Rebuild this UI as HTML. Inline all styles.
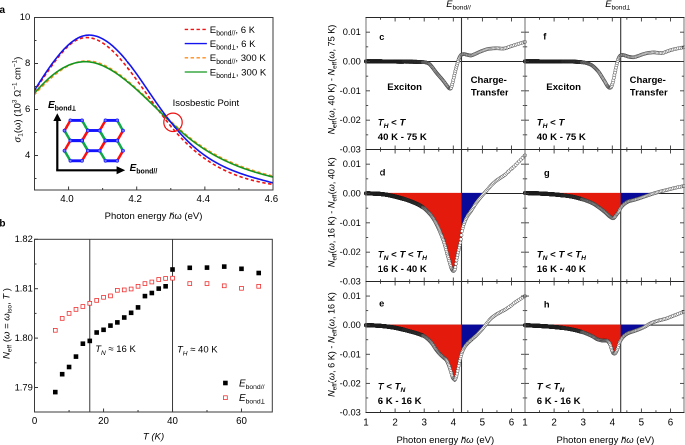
<!DOCTYPE html>
<html><head><meta charset="utf-8"><style>
html,body{margin:0;padding:0;background:#fff;overflow:hidden;width:685px;height:445px;}
#wrap{width:685px;height:445px;overflow:hidden;position:relative;}
#fig{position:absolute;left:0;top:0;width:1370px;height:890px;transform:scale(0.5);transform-origin:0 0;will-change:transform;}
svg{display:block;font-family:"Liberation Sans", sans-serif;}
</style></head><body><div id="wrap"><div id="fig">
<svg width="1370" height="890" viewBox="0 0 685 445">
<text x="-0.5" y="12.8" font-size="10" font-weight="bold" xml:space="preserve">a</text>
<text x="-0.6" y="226.4" font-size="10" font-weight="bold" xml:space="preserve">b</text>
<defs><clipPath id="ca"><rect x="34.5" y="17.5" width="238.5" height="172.5"/></clipPath></defs>
<g clip-path="url(#ca)" fill="none">
<path d="M34,95.1 L35,94.01 L36,92.93 L37,91.86 L38,90.8 L39,89.74 L40,88.7 L41,87.67 L42,86.65 L43,85.65 L44,84.65 L45,83.67 L46,82.7 L47,81.75 L48,80.81 L49,79.89 L50,78.98 L51,78.09 L52,77.21 L53,76.36 L54,75.52 L55,74.7 L56,73.9 L57,73.12 L58,72.36 L59,71.62 L60,70.9 L61,70.2 L62,69.53 L63,68.88 L64,68.25 L65,67.65 L66,67.07 L67,66.51 L68,65.98 L69,65.48 L70,64.99 L71,64.54 L72,64.11 L73,63.71 L74,63.33 L75,62.98 L76,62.66 L77,62.36 L78,62.09 L79,61.85 L80,61.63 L81,61.45 L82,61.29 L83,61.16 L84,61.06 L85,60.99 L86,60.94 L87,60.93 L88,60.95 L89,61 L90,61.07 L91,61.18 L92,61.32 L93,61.49 L94,61.69 L95,61.91 L96,62.16 L97,62.44 L98,62.75 L99,63.08 L100,63.44 L101,63.82 L102,64.22 L103,64.65 L104,65.1 L105,65.58 L106,66.07 L107,66.59 L108,67.13 L109,67.68 L110,68.26 L111,68.85 L112,69.47 L113,70.1 L114,70.74 L115,71.4 L116,72.08 L117,72.77 L118,73.48 L119,74.2 L120,74.94 L121,75.68 L122,76.44 L123,77.21 L124,77.99 L125,78.79 L126,79.59 L127,80.41 L128,81.23 L129,82.06 L130,82.91 L131,83.76 L132,84.62 L133,85.49 L134,86.37 L135,87.26 L136,88.15 L137,89.05 L138,89.96 L139,90.87 L140,91.79 L141,92.71 L142,93.64 L143,94.58 L144,95.52 L145,96.46 L146,97.41 L147,98.36 L148,99.32 L149,100.28 L150,101.24 L151,102.2 L152,103.17 L153,104.13 L154,105.1 L155,106.07 L156,107.04 L157,108.01 L158,108.98 L159,109.95 L160,110.92 L161,111.88 L162,112.85 L163,113.81 L164,114.78 L165,115.73 L166,116.69 L167,117.64 L168,118.59 L169,119.54 L170,120.48 L171,121.42 L172,122.35 L173,123.28 L174,124.2 L175,125.12 L176,126.02 L177,126.93 L178,127.82 L179,128.71 L180,129.59 L181,130.47 L182,131.33 L183,132.19 L184,133.03 L185,133.87 L186,134.7 L187,135.52 L188,136.33 L189,137.12 L190,137.91 L191,138.69 L192,139.45 L193,140.21 L194,140.95 L195,141.69 L196,142.41 L197,143.13 L198,143.84 L199,144.53 L200,145.22 L201,145.9 L202,146.56 L203,147.22 L204,147.87 L205,148.51 L206,149.14 L207,149.76 L208,150.38 L209,150.98 L210,151.58 L211,152.17 L212,152.74 L213,153.32 L214,153.88 L215,154.43 L216,154.98 L217,155.52 L218,156.05 L219,156.57 L220,157.09 L221,157.6 L222,158.1 L223,158.59 L224,159.08 L225,159.55 L226,160.03 L227,160.49 L228,160.95 L229,161.4 L230,161.85 L231,162.28 L232,162.72 L233,163.14 L234,163.56 L235,163.97 L236,164.38 L237,164.78 L238,165.18 L239,165.57 L240,165.95 L241,166.33 L242,166.7 L243,167.07 L244,167.43 L245,167.79 L246,168.14 L247,168.49 L248,168.83 L249,169.17 L250,169.5 L251,169.83 L252,170.15 L253,170.47 L254,170.79 L255,171.1 L256,171.4 L257,171.71 L258,172.01 L259,172.3 L260,172.59 L261,172.88 L262,173.17 L263,173.45 L264,173.73 L265,174 L266,174.27 L267,174.54 L268,174.81 L269,175.07 L270,175.33 L271,175.59 L272,175.84 L273,176.1" stroke="#ff8c1a" stroke-width="1.6" stroke-dasharray="3.4 2.5"/>
<path d="M34,91.47 L35,90.06 L36,88.65 L37,87.22 L38,85.79 L39,84.34 L40,82.89 L41,81.43 L42,79.97 L43,78.51 L44,77.05 L45,75.59 L46,74.14 L47,72.69 L48,71.24 L49,69.81 L50,68.38 L51,66.97 L52,65.57 L53,64.18 L54,62.82 L55,61.47 L56,60.14 L57,58.83 L58,57.55 L59,56.29 L60,55.06 L61,53.86 L62,52.68 L63,51.54 L64,50.44 L65,49.37 L66,48.33 L67,47.34 L68,46.38 L69,45.47 L70,44.6 L71,43.78 L72,43 L73,42.27 L74,41.6 L75,40.97 L76,40.4 L77,39.88 L78,39.42 L79,39.01 L80,38.65 L81,38.35 L82,38.09 L83,37.89 L84,37.73 L85,37.62 L86,37.56 L87,37.55 L88,37.59 L89,37.67 L90,37.79 L91,37.96 L92,38.17 L93,38.43 L94,38.72 L95,39.06 L96,39.44 L97,39.86 L98,40.31 L99,40.81 L100,41.34 L101,41.91 L102,42.51 L103,43.15 L104,43.83 L105,44.53 L106,45.27 L107,46.05 L108,46.85 L109,47.69 L110,48.55 L111,49.44 L112,50.37 L113,51.32 L114,52.29 L115,53.3 L116,54.32 L117,55.38 L118,56.45 L119,57.55 L120,58.68 L121,59.82 L122,60.99 L123,62.17 L124,63.38 L125,64.6 L126,65.84 L127,67.1 L128,68.37 L129,69.65 L130,70.96 L131,72.27 L132,73.6 L133,74.94 L134,76.29 L135,77.64 L136,79.01 L137,80.39 L138,81.77 L139,83.16 L140,84.56 L141,85.96 L142,87.36 L143,88.77 L144,90.18 L145,91.59 L146,93 L147,94.41 L148,95.82 L149,97.23 L150,98.63 L151,100.03 L152,101.43 L153,102.82 L154,104.21 L155,105.59 L156,106.96 L157,108.32 L158,109.68 L159,111.02 L160,112.36 L161,113.69 L162,115.01 L163,116.32 L164,117.63 L165,118.92 L166,120.19 L167,121.46 L168,122.72 L169,123.96 L170,125.19 L171,126.41 L172,127.61 L173,128.8 L174,129.98 L175,131.14 L176,132.28 L177,133.41 L178,134.53 L179,135.63 L180,136.71 L181,137.77 L182,138.82 L183,139.85 L184,140.87 L185,141.87 L186,142.86 L187,143.82 L188,144.78 L189,145.72 L190,146.64 L191,147.55 L192,148.44 L193,149.32 L194,150.18 L195,151.03 L196,151.87 L197,152.69 L198,153.49 L199,154.29 L200,155.07 L201,155.83 L202,156.58 L203,157.32 L204,158.05 L205,158.76 L206,159.46 L207,160.15 L208,160.82 L209,161.48 L210,162.13 L211,162.77 L212,163.39 L213,164.01 L214,164.61 L215,165.2 L216,165.77 L217,166.34 L218,166.9 L219,167.44 L220,167.98 L221,168.5 L222,169.01 L223,169.51 L224,170.01 L225,170.49 L226,170.96 L227,171.42 L228,171.87 L229,172.31 L230,172.75 L231,173.17 L232,173.59 L233,173.99 L234,174.39 L235,174.78 L236,175.15 L237,175.53 L238,175.89 L239,176.24 L240,176.59 L241,176.93 L242,177.26 L243,177.58 L244,177.9 L245,178.21 L246,178.51 L247,178.8 L248,179.09 L249,179.37 L250,179.64 L251,179.91 L252,180.17 L253,180.43 L254,180.68 L255,180.92 L256,181.16 L257,181.39 L258,181.62 L259,181.84 L260,182.05 L261,182.27 L262,182.47 L263,182.67 L264,182.87 L265,183.06 L266,183.25 L267,183.44 L268,183.62 L269,183.79 L270,183.97 L271,184.14 L272,184.3 L273,184.46" stroke="#f01414" stroke-width="1.6" stroke-dasharray="3.4 2.5"/>
<path d="M34,93.74 L35,92.58 L36,91.43 L37,90.3 L38,89.18 L39,88.09 L40,87.02 L41,85.96 L42,84.92 L43,83.9 L44,82.9 L45,81.93 L46,80.97 L47,80.03 L48,79.11 L49,78.21 L50,77.34 L51,76.49 L52,75.65 L53,74.84 L54,74.05 L55,73.29 L56,72.54 L57,71.82 L58,71.13 L59,70.45 L60,69.8 L61,69.18 L62,68.57 L63,68 L64,67.44 L65,66.92 L66,66.41 L67,65.93 L68,65.48 L69,65.05 L70,64.65 L71,64.27 L72,63.92 L73,63.59 L74,63.29 L75,63.02 L76,62.77 L77,62.54 L78,62.34 L79,62.17 L80,62.02 L81,61.9 L82,61.81 L83,61.74 L84,61.7 L85,61.68 L86,61.69 L87,61.73 L88,61.8 L89,61.89 L90,62.01 L91,62.15 L92,62.32 L93,62.52 L94,62.74 L95,62.99 L96,63.26 L97,63.55 L98,63.87 L99,64.22 L100,64.58 L101,64.97 L102,65.38 L103,65.81 L104,66.26 L105,66.73 L106,67.23 L107,67.74 L108,68.27 L109,68.82 L110,69.38 L111,69.97 L112,70.57 L113,71.19 L114,71.82 L115,72.48 L116,73.14 L117,73.82 L118,74.52 L119,75.23 L120,75.95 L121,76.69 L122,77.44 L123,78.2 L124,78.97 L125,79.75 L126,80.55 L127,81.36 L128,82.18 L129,83 L130,83.84 L131,84.69 L132,85.54 L133,86.41 L134,87.28 L135,88.17 L136,89.06 L137,89.95 L138,90.86 L139,91.77 L140,92.69 L141,93.61 L142,94.54 L143,95.47 L144,96.41 L145,97.36 L146,98.3 L147,99.26 L148,100.21 L149,101.17 L150,102.13 L151,103.1 L152,104.06 L153,105.03 L154,106 L155,106.97 L156,107.94 L157,108.92 L158,109.89 L159,110.86 L160,111.83 L161,112.8 L162,113.77 L163,114.74 L164,115.7 L165,116.67 L166,117.63 L167,118.58 L168,119.54 L169,120.49 L170,121.43 L171,122.37 L172,123.31 L173,124.24 L174,125.17 L175,126.09 L176,127 L177,127.91 L178,128.81 L179,129.7 L180,130.58 L181,131.46 L182,132.33 L183,133.19 L184,134.04 L185,134.88 L186,135.71 L187,136.54 L188,137.35 L189,138.15 L190,138.94 L191,139.72 L192,140.49 L193,141.24 L194,141.99 L195,142.73 L196,143.46 L197,144.17 L198,144.88 L199,145.58 L200,146.27 L201,146.95 L202,147.62 L203,148.28 L204,148.93 L205,149.57 L206,150.2 L207,150.82 L208,151.44 L209,152.04 L210,152.64 L211,153.23 L212,153.81 L213,154.38 L214,154.94 L215,155.49 L216,156.04 L217,156.58 L218,157.11 L219,157.63 L220,158.15 L221,158.66 L222,159.16 L223,159.65 L224,160.13 L225,160.61 L226,161.08 L227,161.55 L228,162 L229,162.45 L230,162.9 L231,163.34 L232,163.77 L233,164.19 L234,164.61 L235,165.02 L236,165.42 L237,165.82 L238,166.22 L239,166.61 L240,166.99 L241,167.36 L242,167.74 L243,168.1 L244,168.46 L245,168.82 L246,169.17 L247,169.51 L248,169.85 L249,170.19 L250,170.52 L251,170.84 L252,171.17 L253,171.48 L254,171.8 L255,172.1 L256,172.41 L257,172.71 L258,173.01 L259,173.3 L260,173.59 L261,173.87 L262,174.16 L263,174.43 L264,174.71 L265,174.98 L266,175.25 L267,175.52 L268,175.78 L269,176.04 L270,176.3 L271,176.55 L272,176.81 L273,177.06" stroke="#14961e" stroke-width="1.6"/>
<path d="M34,91.11 L35,89.51 L36,87.92 L37,86.33 L38,84.74 L39,83.17 L40,81.61 L41,80.05 L42,78.51 L43,76.98 L44,75.46 L45,73.96 L46,72.47 L47,71 L48,69.54 L49,68.1 L50,66.68 L51,65.27 L52,63.89 L53,62.53 L54,61.19 L55,59.87 L56,58.58 L57,57.31 L58,56.07 L59,54.85 L60,53.67 L61,52.5 L62,51.37 L63,50.27 L64,49.2 L65,48.16 L66,47.16 L67,46.19 L68,45.25 L69,44.35 L70,43.48 L71,42.66 L72,41.87 L73,41.12 L74,40.41 L75,39.74 L76,39.11 L77,38.53 L78,37.99 L79,37.49 L80,37.04 L81,36.64 L82,36.28 L83,35.98 L84,35.72 L85,35.5 L86,35.34 L87,35.22 L88,35.14 L89,35.11 L90,35.13 L91,35.19 L92,35.29 L93,35.43 L94,35.62 L95,35.85 L96,36.12 L97,36.42 L98,36.77 L99,37.16 L100,37.58 L101,38.04 L102,38.54 L103,39.08 L104,39.65 L105,40.25 L106,40.89 L107,41.57 L108,42.27 L109,43.01 L110,43.79 L111,44.59 L112,45.42 L113,46.29 L114,47.18 L115,48.1 L116,49.05 L117,50.03 L118,51.04 L119,52.07 L120,53.13 L121,54.21 L122,55.32 L123,56.45 L124,57.61 L125,58.79 L126,59.99 L127,61.21 L128,62.45 L129,63.71 L130,65 L131,66.3 L132,67.62 L133,68.96 L134,70.31 L135,71.68 L136,73.07 L137,74.47 L138,75.88 L139,77.3 L140,78.74 L141,80.18 L142,81.63 L143,83.09 L144,84.55 L145,86.02 L146,87.49 L147,88.97 L148,90.44 L149,91.92 L150,93.39 L151,94.86 L152,96.33 L153,97.8 L154,99.25 L155,100.71 L156,102.15 L157,103.58 L158,105.01 L159,106.42 L160,107.82 L161,109.21 L162,110.59 L163,111.96 L164,113.31 L165,114.65 L166,115.98 L167,117.29 L168,118.59 L169,119.88 L170,121.15 L171,122.41 L172,123.66 L173,124.89 L174,126.1 L175,127.3 L176,128.49 L177,129.65 L178,130.81 L179,131.94 L180,133.06 L181,134.17 L182,135.25 L183,136.32 L184,137.38 L185,138.41 L186,139.43 L187,140.43 L188,141.41 L189,142.37 L190,143.32 L191,144.25 L192,145.16 L193,146.05 L194,146.93 L195,147.79 L196,148.64 L197,149.47 L198,150.28 L199,151.08 L200,151.87 L201,152.63 L202,153.39 L203,154.13 L204,154.85 L205,155.56 L206,156.26 L207,156.94 L208,157.61 L209,158.27 L210,158.91 L211,159.54 L212,160.16 L213,160.76 L214,161.35 L215,161.94 L216,162.5 L217,163.06 L218,163.61 L219,164.15 L220,164.67 L221,165.19 L222,165.69 L223,166.18 L224,166.67 L225,167.14 L226,167.61 L227,168.06 L228,168.51 L229,168.95 L230,169.38 L231,169.8 L232,170.21 L233,170.62 L234,171.01 L235,171.4 L236,171.79 L237,172.16 L238,172.53 L239,172.89 L240,173.25 L241,173.6 L242,173.94 L243,174.28 L244,174.62 L245,174.94 L246,175.27 L247,175.58 L248,175.9 L249,176.21 L250,176.51 L251,176.81 L252,177.11 L253,177.41 L254,177.7 L255,177.99 L256,178.27 L257,178.55 L258,178.84 L259,179.11 L260,179.39 L261,179.67 L262,179.94 L263,180.21 L264,180.48 L265,180.76 L266,181.03 L267,181.3 L268,181.57 L269,181.84 L270,182.11 L271,182.38 L272,182.65 L273,182.92" stroke="#1414f0" stroke-width="1.6"/>
</g>
<rect x="34.5" y="17.5" width="238.5" height="172.5" fill="none" stroke="#3a3a3a" stroke-width="1"/>
<line x1="34.5" y1="178.5" x2="36.5" y2="178.5" stroke="#3a3a3a" stroke-width="1.0" />
<line x1="34.5" y1="155.5" x2="38" y2="155.5" stroke="#3a3a3a" stroke-width="1.0" />
<text x="25.02" y="158.1" font-size="9.5" xml:space="preserve">4</text>
<line x1="34.5" y1="132.5" x2="36.5" y2="132.5" stroke="#3a3a3a" stroke-width="1.0" />
<line x1="34.5" y1="109.5" x2="38" y2="109.5" stroke="#3a3a3a" stroke-width="1.0" />
<text x="25.02" y="112.1" font-size="9.5" xml:space="preserve">6</text>
<line x1="34.5" y1="86.5" x2="36.5" y2="86.5" stroke="#3a3a3a" stroke-width="1.0" />
<line x1="34.5" y1="63.5" x2="38" y2="63.5" stroke="#3a3a3a" stroke-width="1.0" />
<text x="25.02" y="66.1" font-size="9.5" xml:space="preserve">8</text>
<line x1="34.5" y1="40.5" x2="36.5" y2="40.5" stroke="#3a3a3a" stroke-width="1.0" />
<line x1="34.5" y1="17.5" x2="38" y2="17.5" stroke="#3a3a3a" stroke-width="1.0" />
<text x="19.73" y="20.1" font-size="9.5" xml:space="preserve">10</text>
<line x1="34.5" y1="190" x2="34.5" y2="188" stroke="#3a3a3a" stroke-width="1.0" />
<line x1="68.57" y1="190" x2="68.57" y2="186.5" stroke="#3a3a3a" stroke-width="1.0" />
<text x="60.23" y="201.8" font-size="9.7" xml:space="preserve">4.0</text>
<line x1="102.64" y1="190" x2="102.64" y2="188" stroke="#3a3a3a" stroke-width="1.0" />
<line x1="136.71" y1="190" x2="136.71" y2="186.5" stroke="#3a3a3a" stroke-width="1.0" />
<text x="128.37" y="201.8" font-size="9.7" xml:space="preserve">4.2</text>
<line x1="170.79" y1="190" x2="170.79" y2="188" stroke="#3a3a3a" stroke-width="1.0" />
<line x1="204.86" y1="190" x2="204.86" y2="186.5" stroke="#3a3a3a" stroke-width="1.0" />
<text x="196.51" y="201.8" font-size="9.7" xml:space="preserve">4.4</text>
<line x1="238.93" y1="190" x2="238.93" y2="188" stroke="#3a3a3a" stroke-width="1.0" />
<line x1="273" y1="190" x2="273" y2="186.5" stroke="#3a3a3a" stroke-width="1.0" />
<text x="264.66" y="201.8" font-size="9.7" xml:space="preserve">4.6</text>
<text x="104.64" y="218.8" font-size="9.5" xml:space="preserve">Photon energy </text><text x="169.07" y="218.8" font-size="9.5" font-style="italic" fill="#000">h</text><path d="M170.21,214.05 L173.82,212.72" stroke="#000" stroke-width="0.71"/><text x="174.36" y="218.8" font-size="9.5" xml:space="preserve">ω</text><text x="181.78" y="218.8" font-size="9.5" xml:space="preserve"> (eV)</text>
<g transform="translate(20.3,99.6) rotate(-90)"><text x="-42.88" y="0" font-size="9.5" font-style="italic" xml:space="preserve">σ</text><text x="-37.15" y="2" font-size="6.4" xml:space="preserve">1</text><text x="-33.59" y="0" font-size="9.5" xml:space="preserve">(ω) (10</text><text x="-3.48" y="-3.6" font-size="6.4" xml:space="preserve">3</text><text x="0.08" y="0" font-size="9.5" xml:space="preserve"> Ω</text><text x="9.82" y="-3.6" font-size="6.4" xml:space="preserve">−1</text><text x="17.12" y="0" font-size="9.5" xml:space="preserve"> cm</text><text x="32.42" y="-3.6" font-size="6.4" xml:space="preserve">−1</text><text x="39.72" y="0" font-size="9.5" xml:space="preserve">)</text></g>
<line x1="184.7" y1="29.4" x2="206.9" y2="29.4" stroke="#f01414" stroke-width="1.35" stroke-dasharray="3.4 2.5"/>
<text x="209.8" y="32.8" font-size="9.6" xml:space="preserve">E</text><text x="216.2" y="35.4" font-size="6.9" xml:space="preserve">bond</text><text x="231.55" y="35.4" font-size="6.9" xml:space="preserve">//</text><text x="235.39" y="32.8" font-size="9.6" xml:space="preserve">, 6 K</text>
<line x1="184.7" y1="43.6" x2="206.9" y2="43.6" stroke="#1414f0" stroke-width="1.35" />
<text x="209.8" y="47" font-size="9.6" xml:space="preserve">E</text><text x="216.2" y="49.6" font-size="6.9" xml:space="preserve">bond</text><path d="M233.69,44.77 V49.6 M231.97,49.31 H235.42" stroke="#000" stroke-width="0.59" fill="none"/><text x="235.83" y="47" font-size="9.6" xml:space="preserve">, 6 K</text>
<line x1="184.7" y1="57.8" x2="206.9" y2="57.8" stroke="#ff8c1a" stroke-width="1.35" stroke-dasharray="3.4 2.5"/>
<text x="209.8" y="61.2" font-size="9.6" xml:space="preserve">E</text><text x="216.2" y="63.8" font-size="6.9" xml:space="preserve">bond</text><text x="231.55" y="63.8" font-size="6.9" xml:space="preserve">//</text><text x="235.39" y="61.2" font-size="9.6" xml:space="preserve">, 300 K</text>
<line x1="184.7" y1="72" x2="206.9" y2="72" stroke="#14961e" stroke-width="1.35" />
<text x="209.8" y="75.4" font-size="9.6" xml:space="preserve">E</text><text x="216.2" y="78" font-size="6.9" xml:space="preserve">bond</text><path d="M233.69,73.17 V78 M231.97,77.71 H235.42" stroke="#000" stroke-width="0.59" fill="none"/><text x="235.83" y="75.4" font-size="9.6" xml:space="preserve">, 300 K</text>
<text x="172.6" y="105.8" font-size="9.5" xml:space="preserve">Isosbestic Point</text>
<circle cx="173" cy="122.3" r="9.2" fill="none" stroke="#ee1111" stroke-width="1.2"/>
<line x1="70.4" y1="120.4" x2="82" y2="120.4" stroke="#1414ff" stroke-width="2.9" />
<line x1="82" y1="120.4" x2="87.9" y2="130.6" stroke="#10a848" stroke-width="2.5" />
<line x1="82" y1="140.7" x2="87.9" y2="130.6" stroke="#ff1010" stroke-width="2.5" />
<line x1="70.4" y1="140.7" x2="82" y2="140.7" stroke="#1414ff" stroke-width="2.9" />
<line x1="64.5" y1="130.6" x2="70.4" y2="140.7" stroke="#10a848" stroke-width="2.5" />
<line x1="64.5" y1="130.6" x2="70.4" y2="120.4" stroke="#ff1010" stroke-width="2.5" />
<line x1="70.4" y1="140.5" x2="82" y2="140.5" stroke="#1414ff" stroke-width="2.9" />
<line x1="82" y1="140.5" x2="87.9" y2="150.7" stroke="#10a848" stroke-width="2.5" />
<line x1="82" y1="160.8" x2="87.9" y2="150.7" stroke="#ff1010" stroke-width="2.5" />
<line x1="70.4" y1="160.8" x2="82" y2="160.8" stroke="#1414ff" stroke-width="2.9" />
<line x1="64.5" y1="150.7" x2="70.4" y2="160.8" stroke="#10a848" stroke-width="2.5" />
<line x1="64.5" y1="150.7" x2="70.4" y2="140.5" stroke="#ff1010" stroke-width="2.5" />
<line x1="105.5" y1="120.4" x2="117.2" y2="120.4" stroke="#1414ff" stroke-width="2.9" />
<line x1="117.2" y1="120.4" x2="123" y2="130.6" stroke="#10a848" stroke-width="2.5" />
<line x1="117.2" y1="140.7" x2="123" y2="130.6" stroke="#ff1010" stroke-width="2.5" />
<line x1="105.5" y1="140.7" x2="117.2" y2="140.7" stroke="#1414ff" stroke-width="2.9" />
<line x1="99.6" y1="130.6" x2="105.5" y2="140.7" stroke="#10a848" stroke-width="2.5" />
<line x1="99.6" y1="130.6" x2="105.5" y2="120.4" stroke="#ff1010" stroke-width="2.5" />
<line x1="105.5" y1="140.5" x2="117.2" y2="140.5" stroke="#1414ff" stroke-width="2.9" />
<line x1="117.2" y1="140.5" x2="123" y2="150.7" stroke="#10a848" stroke-width="2.5" />
<line x1="117.2" y1="160.8" x2="123" y2="150.7" stroke="#ff1010" stroke-width="2.5" />
<line x1="105.5" y1="160.8" x2="117.2" y2="160.8" stroke="#1414ff" stroke-width="2.9" />
<line x1="99.6" y1="150.7" x2="105.5" y2="160.8" stroke="#10a848" stroke-width="2.5" />
<line x1="99.6" y1="150.7" x2="105.5" y2="140.5" stroke="#ff1010" stroke-width="2.5" />
<line x1="88" y1="130.5" x2="99.6" y2="130.5" stroke="#1414ff" stroke-width="2.9" />
<line x1="99.6" y1="130.5" x2="105.5" y2="140.6" stroke="#10a848" stroke-width="2.5" />
<line x1="99.6" y1="150.7" x2="105.5" y2="140.6" stroke="#ff1010" stroke-width="2.5" />
<line x1="88" y1="150.7" x2="99.6" y2="150.7" stroke="#1414ff" stroke-width="2.9" />
<line x1="82.1" y1="140.6" x2="88" y2="150.7" stroke="#10a848" stroke-width="2.5" />
<line x1="82.1" y1="140.6" x2="88" y2="130.5" stroke="#ff1010" stroke-width="2.5" />
<circle cx="105.5" cy="120.4" r="1.5" fill="#7a7aff" stroke="#1414ff" stroke-width="0.7"/>
<circle cx="82.0" cy="140.7" r="1.5" fill="#7a7aff" stroke="#1414ff" stroke-width="0.7"/>
<circle cx="88.0" cy="150.7" r="1.5" fill="#7a7aff" stroke="#1414ff" stroke-width="0.7"/>
<circle cx="99.6" cy="150.7" r="1.5" fill="#7a7aff" stroke="#1414ff" stroke-width="0.7"/>
<circle cx="123.0" cy="150.7" r="1.5" fill="#7a7aff" stroke="#1414ff" stroke-width="0.7"/>
<circle cx="105.5" cy="140.7" r="1.5" fill="#7a7aff" stroke="#1414ff" stroke-width="0.7"/>
<circle cx="88.0" cy="130.5" r="1.5" fill="#7a7aff" stroke="#1414ff" stroke-width="0.7"/>
<circle cx="82.1" cy="140.6" r="1.5" fill="#7a7aff" stroke="#1414ff" stroke-width="0.7"/>
<circle cx="99.6" cy="130.5" r="1.5" fill="#7a7aff" stroke="#1414ff" stroke-width="0.7"/>
<circle cx="70.4" cy="160.8" r="1.5" fill="#7a7aff" stroke="#1414ff" stroke-width="0.7"/>
<circle cx="70.4" cy="140.5" r="1.5" fill="#7a7aff" stroke="#1414ff" stroke-width="0.7"/>
<circle cx="117.2" cy="160.8" r="1.5" fill="#7a7aff" stroke="#1414ff" stroke-width="0.7"/>
<circle cx="117.2" cy="140.5" r="1.5" fill="#7a7aff" stroke="#1414ff" stroke-width="0.7"/>
<circle cx="105.5" cy="140.6" r="1.5" fill="#7a7aff" stroke="#1414ff" stroke-width="0.7"/>
<circle cx="99.6" cy="130.6" r="1.5" fill="#7a7aff" stroke="#1414ff" stroke-width="0.7"/>
<circle cx="123.0" cy="130.6" r="1.5" fill="#7a7aff" stroke="#1414ff" stroke-width="0.7"/>
<circle cx="87.9" cy="150.7" r="1.5" fill="#7a7aff" stroke="#1414ff" stroke-width="0.7"/>
<circle cx="64.5" cy="150.7" r="1.5" fill="#7a7aff" stroke="#1414ff" stroke-width="0.7"/>
<circle cx="82.0" cy="160.8" r="1.5" fill="#7a7aff" stroke="#1414ff" stroke-width="0.7"/>
<circle cx="82.0" cy="140.5" r="1.5" fill="#7a7aff" stroke="#1414ff" stroke-width="0.7"/>
<circle cx="105.5" cy="160.8" r="1.5" fill="#7a7aff" stroke="#1414ff" stroke-width="0.7"/>
<circle cx="70.4" cy="120.4" r="1.5" fill="#7a7aff" stroke="#1414ff" stroke-width="0.7"/>
<circle cx="105.5" cy="140.5" r="1.5" fill="#7a7aff" stroke="#1414ff" stroke-width="0.7"/>
<circle cx="117.2" cy="120.4" r="1.5" fill="#7a7aff" stroke="#1414ff" stroke-width="0.7"/>
<circle cx="70.4" cy="140.7" r="1.5" fill="#7a7aff" stroke="#1414ff" stroke-width="0.7"/>
<circle cx="87.9" cy="130.6" r="1.5" fill="#7a7aff" stroke="#1414ff" stroke-width="0.7"/>
<circle cx="117.2" cy="140.7" r="1.5" fill="#7a7aff" stroke="#1414ff" stroke-width="0.7"/>
<circle cx="64.5" cy="130.6" r="1.5" fill="#7a7aff" stroke="#1414ff" stroke-width="0.7"/>
<circle cx="82.0" cy="120.4" r="1.5" fill="#7a7aff" stroke="#1414ff" stroke-width="0.7"/>
<path d="M57.3,170.3 L57.3,120" stroke="#000" stroke-width="2.2" fill="none"/>
<path d="M53.3,121 L61.3,121 L57.3,113.2 Z" fill="#000"/>
<path d="M56.2,170.3 L117.5,170.3" stroke="#000" stroke-width="2.2" fill="none"/>
<path d="M116.6,166.2 L116.6,174.3 L125.2,170.3 Z" fill="#000"/>
<text x="48" y="107.8" font-size="10" font-weight="bold" font-style="italic" xml:space="preserve">E</text><text x="54.67" y="110.7" font-size="7" font-weight="bold" xml:space="preserve">bond</text><path d="M73.94,105.8 V110.7 M72.19,110.28 H75.69" stroke="#000" stroke-width="0.84" fill="none"/>
<text x="129.6" y="170.9" font-size="10" font-weight="bold" font-style="italic" xml:space="preserve">E</text><text x="136.27" y="173.3" font-size="7" font-weight="bold" xml:space="preserve">bond//</text>
<line x1="89.77" y1="239.3" x2="89.77" y2="412" stroke="#3a3a3a" stroke-width="1.0" />
<line x1="172.52" y1="239.3" x2="172.52" y2="412" stroke="#3a3a3a" stroke-width="1.0" />
<rect x="34.5" y="239.3" width="237.8" height="172.7" fill="none" stroke="#3a3a3a" stroke-width="1"/>
<line x1="34.5" y1="239.3" x2="38" y2="239.3" stroke="#3a3a3a" stroke-width="1.0" />
<text x="14.6" y="242.1" font-size="9.4" xml:space="preserve">1.82</text>
<line x1="34.5" y1="264" x2="36.5" y2="264" stroke="#3a3a3a" stroke-width="1.0" />
<line x1="34.5" y1="288.7" x2="38" y2="288.7" stroke="#3a3a3a" stroke-width="1.0" />
<text x="14.6" y="291.5" font-size="9.4" xml:space="preserve">1.81</text>
<line x1="34.5" y1="313.4" x2="36.5" y2="313.4" stroke="#3a3a3a" stroke-width="1.0" />
<line x1="34.5" y1="338.1" x2="38" y2="338.1" stroke="#3a3a3a" stroke-width="1.0" />
<text x="14.6" y="340.9" font-size="9.4" xml:space="preserve">1.80</text>
<line x1="34.5" y1="362.8" x2="36.5" y2="362.8" stroke="#3a3a3a" stroke-width="1.0" />
<line x1="34.5" y1="387.5" x2="38" y2="387.5" stroke="#3a3a3a" stroke-width="1.0" />
<text x="14.6" y="390.3" font-size="9.4" xml:space="preserve">1.79</text>
<text x="31.9" y="423.9" font-size="9.7" xml:space="preserve">0</text>
<line x1="69.08" y1="412" x2="69.08" y2="410" stroke="#3a3a3a" stroke-width="1.0" />
<line x1="103.56" y1="412" x2="103.56" y2="408.5" stroke="#3a3a3a" stroke-width="1.0" />
<text x="98.17" y="423.9" font-size="9.7" xml:space="preserve">20</text>
<line x1="138.04" y1="412" x2="138.04" y2="410" stroke="#3a3a3a" stroke-width="1.0" />
<line x1="172.52" y1="412" x2="172.52" y2="408.5" stroke="#3a3a3a" stroke-width="1.0" />
<text x="167.13" y="423.9" font-size="9.7" xml:space="preserve">40</text>
<line x1="207" y1="412" x2="207" y2="410" stroke="#3a3a3a" stroke-width="1.0" />
<line x1="241.48" y1="412" x2="241.48" y2="408.5" stroke="#3a3a3a" stroke-width="1.0" />
<text x="236.09" y="423.9" font-size="9.7" xml:space="preserve">60</text>
<text x="142.84" y="439.6" font-size="9.6" font-style="italic" xml:space="preserve">T</text><text x="148.7" y="439.6" font-size="9.6" font-style="italic" xml:space="preserve"> (K)</text>
<g transform="translate(9.3,323.5) rotate(-90)"><text x="-35.47" y="0" font-size="9.5" font-style="italic" xml:space="preserve">N</text><text x="-28.61" y="2" font-size="6.6" xml:space="preserve">eff</text><text x="-21.28" y="0" font-size="9.5" xml:space="preserve"> (</text><text x="-15.47" y="0" font-size="9.5" font-style="italic" xml:space="preserve">ω</text><text x="-8.07" y="0" font-size="9.5" xml:space="preserve"> = </text><text x="2.75" y="0" font-size="9.5" font-style="italic" xml:space="preserve">ω</text><text x="10.15" y="2" font-size="6.6" xml:space="preserve">iso</text><text x="18.59" y="0" font-size="9.5" xml:space="preserve">, </text><text x="23.87" y="0" font-size="9.5" font-style="italic" xml:space="preserve">T</text><text x="29.67" y="0" font-size="9.5" xml:space="preserve"> )</text></g>
<rect x="53.39" y="328.4" width="3.8" height="3.8" fill="#fff" stroke="#f03030" stroke-width="0.8"/>
<rect x="60.28" y="316.5" width="3.8" height="3.8" fill="#fff" stroke="#f03030" stroke-width="0.8"/>
<rect x="67.18" y="311.5" width="3.8" height="3.8" fill="#fff" stroke="#f03030" stroke-width="0.8"/>
<rect x="74.08" y="307.5" width="3.8" height="3.8" fill="#fff" stroke="#f03030" stroke-width="0.8"/>
<rect x="80.97" y="304.6" width="3.8" height="3.8" fill="#fff" stroke="#f03030" stroke-width="0.8"/>
<rect x="87.87" y="301.4" width="3.8" height="3.8" fill="#fff" stroke="#f03030" stroke-width="0.8"/>
<rect x="94.76" y="298.5" width="3.8" height="3.8" fill="#fff" stroke="#f03030" stroke-width="0.8"/>
<rect x="101.66" y="295.4" width="3.8" height="3.8" fill="#fff" stroke="#f03030" stroke-width="0.8"/>
<rect x="108.56" y="294" width="3.8" height="3.8" fill="#fff" stroke="#f03030" stroke-width="0.8"/>
<rect x="115.45" y="288.4" width="3.8" height="3.8" fill="#fff" stroke="#f03030" stroke-width="0.8"/>
<rect x="122.35" y="288" width="3.8" height="3.8" fill="#fff" stroke="#f03030" stroke-width="0.8"/>
<rect x="129.24" y="287.1" width="3.8" height="3.8" fill="#fff" stroke="#f03030" stroke-width="0.8"/>
<rect x="136.14" y="284.4" width="3.8" height="3.8" fill="#fff" stroke="#f03030" stroke-width="0.8"/>
<rect x="143.04" y="281.7" width="3.8" height="3.8" fill="#fff" stroke="#f03030" stroke-width="0.8"/>
<rect x="149.93" y="280.1" width="3.8" height="3.8" fill="#fff" stroke="#f03030" stroke-width="0.8"/>
<rect x="156.83" y="277.6" width="3.8" height="3.8" fill="#fff" stroke="#f03030" stroke-width="0.8"/>
<rect x="163.72" y="276.5" width="3.8" height="3.8" fill="#fff" stroke="#f03030" stroke-width="0.8"/>
<rect x="170.62" y="276.3" width="3.8" height="3.8" fill="#fff" stroke="#f03030" stroke-width="0.8"/>
<rect x="187.86" y="281.7" width="3.8" height="3.8" fill="#fff" stroke="#f03030" stroke-width="0.8"/>
<rect x="205.1" y="281.7" width="3.8" height="3.8" fill="#fff" stroke="#f03030" stroke-width="0.8"/>
<rect x="222.34" y="283.9" width="3.8" height="3.8" fill="#fff" stroke="#f03030" stroke-width="0.8"/>
<rect x="239.58" y="286.4" width="3.8" height="3.8" fill="#fff" stroke="#f03030" stroke-width="0.8"/>
<rect x="256.82" y="284.4" width="3.8" height="3.8" fill="#fff" stroke="#f03030" stroke-width="0.8"/>
<rect x="52.99" y="389.8" width="4.6" height="4.6" fill="#000"/>
<rect x="59.88" y="371.9" width="4.6" height="4.6" fill="#000"/>
<rect x="66.78" y="364.7" width="4.6" height="4.6" fill="#000"/>
<rect x="73.68" y="354.3" width="4.6" height="4.6" fill="#000"/>
<rect x="80.57" y="341.4" width="4.6" height="4.6" fill="#000"/>
<rect x="87.47" y="338.6" width="4.6" height="4.6" fill="#000"/>
<rect x="94.36" y="330.2" width="4.6" height="4.6" fill="#000"/>
<rect x="101.26" y="327.5" width="4.6" height="4.6" fill="#000"/>
<rect x="108.16" y="323.3" width="4.6" height="4.6" fill="#000"/>
<rect x="115.05" y="320.1" width="4.6" height="4.6" fill="#000"/>
<rect x="121.95" y="315.2" width="4.6" height="4.6" fill="#000"/>
<rect x="128.84" y="310.5" width="4.6" height="4.6" fill="#000"/>
<rect x="135.74" y="305.1" width="4.6" height="4.6" fill="#000"/>
<rect x="142.64" y="293.8" width="4.6" height="4.6" fill="#000"/>
<rect x="149.53" y="290.7" width="4.6" height="4.6" fill="#000"/>
<rect x="156.43" y="286.3" width="4.6" height="4.6" fill="#000"/>
<rect x="163.32" y="284" width="4.6" height="4.6" fill="#000"/>
<rect x="170.22" y="267.2" width="4.6" height="4.6" fill="#000"/>
<rect x="187.46" y="265.5" width="4.6" height="4.6" fill="#000"/>
<rect x="204.7" y="265.3" width="4.6" height="4.6" fill="#000"/>
<rect x="221.94" y="264.3" width="4.6" height="4.6" fill="#000"/>
<rect x="239.18" y="266.5" width="4.6" height="4.6" fill="#000"/>
<rect x="256.42" y="270.7" width="4.6" height="4.6" fill="#000"/>
<text x="95.2" y="352.2" font-size="9.5" font-style="italic" xml:space="preserve">T</text><text x="101" y="355" font-size="6.6" font-style="italic" xml:space="preserve">N</text><text x="105.77" y="352.2" font-size="9.5" xml:space="preserve"> ≈ 16 K</text>
<text x="177" y="352.7" font-size="9.5" font-style="italic" xml:space="preserve">T</text><text x="182.8" y="355.5" font-size="6.6" font-style="italic" xml:space="preserve">H</text><text x="187.57" y="352.7" font-size="9.5" xml:space="preserve"> ≈ 40 K</text>
<rect x="223.1" y="380.7" width="4.6" height="4.6" fill="#000"/>
<rect x="223.5" y="395.8" width="3.8" height="3.8" fill="#fff" stroke="#f03030" stroke-width="0.8"/>
<text x="239" y="386.4" font-size="9.9" font-style="italic" xml:space="preserve">E</text><text x="245.6" y="388.9" font-size="6.8" xml:space="preserve">bond//</text>
<text x="239" y="401.1" font-size="9.9" font-style="italic" xml:space="preserve">E</text><text x="245.6" y="403.6" font-size="6.8" xml:space="preserve">bond</text><path d="M262.84,398.84 V403.6 M261.14,403.31 H264.54" stroke="#000" stroke-width="0.58" fill="none"/>
<defs><marker id="m" viewBox="-2 -2 4 4" markerWidth="4" markerHeight="4" markerUnits="userSpaceOnUse" refX="0" refY="0" overflow="visible"><circle r="1.62" fill="#fff" stroke="#262626" stroke-width="0.42"/></marker><marker id="m1" viewBox="-2 -2 4 4" markerWidth="4" markerHeight="4" markerUnits="userSpaceOnUse" refX="0" refY="0" overflow="visible"><circle r="1.7200000000000002" fill="#fff" stroke="#1c1c1c" stroke-width="0.6"/></marker><marker id="m2" viewBox="-2 -2 4 4" markerWidth="4" markerHeight="4" markerUnits="userSpaceOnUse" refX="0" refY="0" overflow="visible"><circle r="1.6700000000000002" fill="#fff" stroke="#202020" stroke-width="0.52"/></marker></defs>
<line x1="366" y1="61.5" x2="525" y2="61.5" stroke="#222" stroke-width="1"/>
<line x1="461.5" y1="17.5" x2="461.5" y2="149.5" stroke="#333" stroke-width="1.1"/>
<polyline points="366,61.4 366.1,61.4 366.2,61.4 366.3,61.4 366.4,61.4 366.5,61.4 366.6,61.4 366.7,61.4 366.8,61.4 366.9,61.4 367,61.4 367.1,61.4 367.2,61.4 367.31,61.4 367.41,61.4 367.51,61.4 367.61,61.4 367.71,61.4 367.81,61.4 367.91,61.4 368.01,61.4 368.11,61.4 368.22,61.4 368.32,61.4 368.42,61.4 368.52,61.4 368.62,61.4 368.72,61.4 368.83,61.4 368.93,61.4 369.03,61.4 369.13,61.4 369.23,61.4 369.34,61.4 369.44,61.41 369.54,61.41 369.64,61.41 369.75,61.41 369.85,61.41 369.95,61.41 370.05,61.41 370.16,61.41 370.26,61.41 370.36,61.41 370.47,61.41 370.57,61.41 370.67,61.41 370.78,61.41 370.88,61.41 370.98,61.41 371.09,61.41 371.19,61.41 371.29,61.41 371.4,61.41 371.5,61.41 371.6,61.41 371.71,61.41 371.81,61.41 371.92,61.41 372.02,61.41 372.12,61.41 372.23,61.41 372.33,61.41 372.44,61.41 372.54,61.41 372.65,61.41 372.75,61.41 372.85,61.41 372.96,61.41 373.06,61.42 373.17,61.42 373.27,61.42 373.38,61.42 373.48,61.42 373.59,61.42 373.69,61.42 373.8,61.42 373.9,61.42 374.01,61.42 374.12,61.42 374.22,61.42 374.33,61.42 374.43,61.42 374.54,61.42 374.64,61.42 374.75,61.42 374.86,61.42 374.96,61.42 375.07,61.42 375.17,61.42 375.28,61.42 375.39,61.42 375.49,61.42 375.6,61.42 375.71,61.42 375.81,61.43 375.92,61.43 376.03,61.43 376.13,61.43 376.24,61.43 376.35,61.43 376.46,61.43 376.56,61.43 376.67,61.43 376.78,61.43 376.88,61.43 376.99,61.43 377.1,61.43 377.21,61.43 377.31,61.43 377.42,61.43 377.53,61.43 377.64,61.43 377.75,61.43 377.85,61.43 377.96,61.43 378.07,61.44 378.18,61.44 378.29,61.44 378.4,61.44 378.5,61.44 378.61,61.44 378.72,61.44 378.83,61.44 378.94,61.44 379.05,61.44 379.16,61.44 379.27,61.44 379.38,61.44 379.48,61.44 379.59,61.44 379.7,61.44 379.81,61.44 379.92,61.44 380.03,61.44 380.14,61.44 380.25,61.45 380.36,61.45 380.47,61.45 380.58,61.45 380.69,61.45 380.8,61.45 380.91,61.45 381.02,61.45 381.13,61.45 381.24,61.45 381.35,61.45 381.46,61.45 381.57,61.45 381.68,61.45 381.79,61.45 381.91,61.45 382.02,61.45 382.13,61.46 382.24,61.46 382.35,61.46 382.46,61.46 382.57,61.46 382.68,61.46 382.8,61.46 382.91,61.46 383.02,61.46 383.13,61.46 383.24,61.46 383.35,61.46 383.47,61.46 383.58,61.46 383.69,61.46 383.8,61.46 383.91,61.46 384.03,61.47 384.14,61.47 384.25,61.47 384.36,61.47 384.48,61.47 384.59,61.47 384.7,61.47 384.81,61.47 384.93,61.47 385.04,61.47 385.15,61.47 385.27,61.47 385.38,61.47 385.49,61.47 385.61,61.47 385.72,61.47 385.83,61.48 385.95,61.48 386.06,61.48 386.18,61.48 386.29,61.48 386.4,61.48 386.52,61.48 386.63,61.48 386.75,61.48 386.86,61.48 386.97,61.48 387.09,61.48 387.2,61.48 387.32,61.48 387.43,61.48 387.55,61.49 387.66,61.49 387.78,61.49 387.89,61.49 388.01,61.49 388.12,61.49 388.24,61.49 388.35,61.49 388.47,61.49 388.58,61.49 388.7,61.49 388.81,61.49 388.93,61.49 389.05,61.49 389.16,61.49 389.28,61.5 389.39,61.5 389.51,61.5 389.63,61.5 389.74,61.5 389.86,61.5 389.97,61.5 390.09,61.5 390.21,61.5 390.32,61.5 390.44,61.5 390.56,61.5 390.67,61.5 390.79,61.5 390.91,61.51 391.03,61.51 391.14,61.51 391.26,61.51 391.38,61.51 391.49,61.51 391.61,61.51 391.73,61.51 391.85,61.51 391.97,61.51 392.08,61.51 392.2,61.51 392.32,61.51 392.44,61.52 392.56,61.52 392.67,61.52 392.79,61.52 392.91,61.52 393.03,61.52 393.15,61.52 393.27,61.52 393.38,61.52 393.5,61.52 393.62,61.52 393.74,61.52 393.86,61.53 393.98,61.53 394.1,61.53 394.22,61.53 394.34,61.53 394.46,61.53 394.58,61.53 394.7,61.53 394.82,61.53 394.94,61.53 395.06,61.53 395.18,61.54 395.3,61.54 395.42,61.54 395.54,61.54 395.66,61.54 395.78,61.54 395.91,61.54 396.03,61.54 396.15,61.54 396.28,61.54 396.4,61.54 396.53,61.55 396.66,61.55 396.78,61.55 396.91,61.55 397.04,61.55 397.17,61.55 397.3,61.55 397.43,61.55 397.56,61.55 397.69,61.56 397.82,61.56 397.95,61.56 398.09,61.56 398.22,61.56 398.36,61.56 398.49,61.56 398.63,61.56 398.76,61.57 398.9,61.57 399.04,61.57 399.17,61.57 399.31,61.57 399.45,61.57 399.59,61.57 399.73,61.57 399.87,61.58 400.02,61.58 400.16,61.58 400.3,61.58 400.45,61.58 400.59,61.58 400.74,61.58 400.88,61.59 401.03,61.59 401.17,61.59 401.32,61.59 401.47,61.59 401.62,61.59 401.77,61.59 401.92,61.6 402.07,61.6 402.22,61.6 402.38,61.6 402.53,61.6 402.68,61.6 402.84,61.61 402.99,61.61 403.15,61.61 403.31,61.61 403.46,61.61 403.62,61.62 403.78,61.62 403.94,61.62" fill="none" stroke="none" marker-start="url(#m1)" marker-mid="url(#m1)" marker-end="url(#m1)"/>
<polyline points="403.94,61.62 404.1,61.62 404.26,61.62 404.43,61.62 404.59,61.63 404.75,61.63 404.92,61.63 405.08,61.63 405.25,61.63 405.41,61.64 405.58,61.64 405.75,61.64 405.92,61.64 406.09,61.65 406.26,61.65 406.43,61.65 406.6,61.65 406.77,61.65 406.95,61.66 407.12,61.66 407.3,61.66 407.47,61.66 407.65,61.67 407.83,61.67 408,61.67 408.18,61.67 408.36,61.68 408.54,61.68 408.73,61.68 408.91,61.68 409.09,61.69 409.28,61.69 409.46,61.69 409.65,61.69 409.83,61.7 410.02,61.7 410.21,61.7 410.4,61.71 410.59,61.71 410.78,61.71 410.97,61.72 411.16,61.72 411.36,61.72 411.55,61.73 411.75,61.73 411.94,61.73 412.14,61.74 412.34,61.74 412.54,61.75 412.74,61.75 412.94,61.76 413.14,61.76 413.35,61.77 413.56,61.77 413.77,61.78 413.99,61.78 414.21,61.79 414.43,61.79 414.65,61.8 414.88,61.81 415.11,61.81 415.34,61.82 415.58,61.82 415.81,61.83 416.05,61.84 416.3,61.85 416.55,61.85 416.8,61.86 417.05,61.87 417.31,61.88 417.57,61.89 417.83,61.89 418.09,61.9 418.36,61.91 418.64,61.92 418.91,61.93 419.19,61.94 419.48,61.95 419.76,61.96 420.06,61.97 420.35,61.98 420.65,61.99 420.95,62 421.26,62.01 421.57,62.02 421.88,62.04 422.2,62.05 422.52,62.07 422.84,62.09" fill="none" stroke="none" marker-start="url(#m2)" marker-mid="url(#m2)" marker-end="url(#m2)"/>
<polyline points="422.84,62.09 423.17,62.11 423.51,62.13 423.84,62.16 424.19,62.18 424.53,62.21 424.88,62.26 425.24,62.32 425.6,62.39 425.96,62.48 426.33,62.59 426.71,62.71 427.08,62.84 427.47,62.99 427.85,63.16 428.25,63.33 428.65,63.52 429.05,63.74 429.46,64.04 429.87,64.42 430.29,64.86 430.71,65.34 431.13,65.84 431.56,66.34 431.98,66.83 432.41,67.35 432.84,67.9 433.27,68.48 433.71,69.07 434.15,69.67 434.58,70.28 435.02,70.89 435.47,71.48 435.91,72.06 436.36,72.62 436.81,73.17 437.26,73.71 437.71,74.25 438.16,74.78 438.62,75.3 439.08,75.83 439.54,76.36 440,76.89 440.47,77.42 440.93,77.95 441.4,78.5 441.87,79.05 442.34,79.61 442.82,80.18 443.3,80.77 443.78,81.38 444.26,82.02 444.74,82.68 445.23,83.36 445.71,84.03 446.2,84.7 446.7,85.36 447.19,85.98 447.69,86.57 448.19,87.18 448.69,87.84 449.19,88.34 449.7,88.5 450.21,88.5 450.72,88.5 451.23,87.83 451.74,85.96 452.26,84.04 452.78,82.05 453.3,79.86 453.82,77.56 454.35,75.24 454.88,72.99 455.41,70.86 455.94,68.74 456.48,66.68 457.02,64.72 457.56,62.88 458.1,61.03 458.65,59.32 459.2,57.91 459.75,56.87 460.31,55.93 460.88,55.16 461.47,54.66 462.06,54.44 462.67,54.26 463.29,54.14 463.92,54.1 464.56,54.16 465.22,54.31 465.88,54.5 466.56,54.7 467.26,54.85 467.96,55.02 468.69,55.2 469.42,55.36 470.17,55.47 470.93,55.5 471.71,55.38 472.51,55.12 473.31,54.77 474.14,54.38 474.98,54.01 475.84,53.65 476.71,53.24 477.6,52.82 478.51,52.39 479.43,51.97 480.37,51.58 481.33,51.19 482.31,50.81 483.31,50.44 484.33,50.09 485.37,49.72 486.42,49.37 487.5,49.07 488.6,48.87 489.72,48.74 490.86,48.61 492.02,48.5 493.21,48.41 494.42,48.34 495.65,48.3 496.91,48.31 498.19,48.36 499.49,48.44 500.82,48.53 502.18,48.59 503.56,48.58 504.97,48.35 506.41,47.94 507.87,47.41 509.37,46.83 510.9,46.3 512.47,45.81 514.07,45.29 515.7,44.76 517.38,44.22 519.08,43.68 520.83,43.14 522.62,42.6 524.44,42.05 525,41.89" fill="none" stroke="none" marker-start="url(#m)" marker-mid="url(#m)" marker-end="url(#m)"/>
<line x1="366" y1="17.5" x2="366" y2="149.5" stroke="#7a7a7a" stroke-width="1.05" />
<line x1="525" y1="17.5" x2="525" y2="149.5" stroke="#7a7a7a" stroke-width="1.05" />
<line x1="365.5" y1="17.5" x2="525.5" y2="17.5" stroke="#262626" stroke-width="1" />
<line x1="365.5" y1="149.5" x2="525.5" y2="149.5" stroke="#262626" stroke-width="1" />
<line x1="380.55" y1="149.5" x2="380.55" y2="147.3" stroke="#3a3a3a" stroke-width="0.9" />
<line x1="380.55" y1="17.5" x2="380.55" y2="19.7" stroke="#3a3a3a" stroke-width="0.9" />
<line x1="395.1" y1="149.5" x2="395.1" y2="145.5" stroke="#3a3a3a" stroke-width="0.9" />
<line x1="395.1" y1="17.5" x2="395.1" y2="21.5" stroke="#3a3a3a" stroke-width="0.9" />
<line x1="409.65" y1="149.5" x2="409.65" y2="147.3" stroke="#3a3a3a" stroke-width="0.9" />
<line x1="409.65" y1="17.5" x2="409.65" y2="19.7" stroke="#3a3a3a" stroke-width="0.9" />
<line x1="424.2" y1="149.5" x2="424.2" y2="145.5" stroke="#3a3a3a" stroke-width="0.9" />
<line x1="424.2" y1="17.5" x2="424.2" y2="21.5" stroke="#3a3a3a" stroke-width="0.9" />
<line x1="438.75" y1="149.5" x2="438.75" y2="147.3" stroke="#3a3a3a" stroke-width="0.9" />
<line x1="438.75" y1="17.5" x2="438.75" y2="19.7" stroke="#3a3a3a" stroke-width="0.9" />
<line x1="453.3" y1="149.5" x2="453.3" y2="145.5" stroke="#3a3a3a" stroke-width="0.9" />
<line x1="453.3" y1="17.5" x2="453.3" y2="21.5" stroke="#3a3a3a" stroke-width="0.9" />
<line x1="467.85" y1="149.5" x2="467.85" y2="147.3" stroke="#3a3a3a" stroke-width="0.9" />
<line x1="467.85" y1="17.5" x2="467.85" y2="19.7" stroke="#3a3a3a" stroke-width="0.9" />
<line x1="482.4" y1="149.5" x2="482.4" y2="145.5" stroke="#3a3a3a" stroke-width="0.9" />
<line x1="482.4" y1="17.5" x2="482.4" y2="21.5" stroke="#3a3a3a" stroke-width="0.9" />
<line x1="496.95" y1="149.5" x2="496.95" y2="147.3" stroke="#3a3a3a" stroke-width="0.9" />
<line x1="496.95" y1="17.5" x2="496.95" y2="19.7" stroke="#3a3a3a" stroke-width="0.9" />
<line x1="511.5" y1="149.5" x2="511.5" y2="145.5" stroke="#3a3a3a" stroke-width="0.9" />
<line x1="511.5" y1="17.5" x2="511.5" y2="21.5" stroke="#3a3a3a" stroke-width="0.9" />
<line x1="366" y1="32.17" x2="370" y2="32.17" stroke="#3a3a3a" stroke-width="0.9" />
<line x1="525" y1="32.17" x2="521" y2="32.17" stroke="#3a3a3a" stroke-width="0.9" />
<text x="342.7" y="35.17" font-size="9.3" xml:space="preserve">0.01</text>
<line x1="366" y1="46.83" x2="368.2" y2="46.83" stroke="#3a3a3a" stroke-width="0.9" />
<line x1="525" y1="46.83" x2="522.8" y2="46.83" stroke="#3a3a3a" stroke-width="0.9" />
<line x1="366" y1="61.5" x2="370" y2="61.5" stroke="#3a3a3a" stroke-width="0.9" />
<line x1="525" y1="61.5" x2="521" y2="61.5" stroke="#3a3a3a" stroke-width="0.9" />
<text x="342.7" y="64.5" font-size="9.3" xml:space="preserve">0.00</text>
<line x1="366" y1="76.17" x2="368.2" y2="76.17" stroke="#3a3a3a" stroke-width="0.9" />
<line x1="525" y1="76.17" x2="522.8" y2="76.17" stroke="#3a3a3a" stroke-width="0.9" />
<line x1="366" y1="90.83" x2="370" y2="90.83" stroke="#3a3a3a" stroke-width="0.9" />
<line x1="525" y1="90.83" x2="521" y2="90.83" stroke="#3a3a3a" stroke-width="0.9" />
<text x="339.6" y="93.83" font-size="9.3" xml:space="preserve">-0.01</text>
<line x1="366" y1="105.5" x2="368.2" y2="105.5" stroke="#3a3a3a" stroke-width="0.9" />
<line x1="525" y1="105.5" x2="522.8" y2="105.5" stroke="#3a3a3a" stroke-width="0.9" />
<line x1="366" y1="120.17" x2="370" y2="120.17" stroke="#3a3a3a" stroke-width="0.9" />
<line x1="525" y1="120.17" x2="521" y2="120.17" stroke="#3a3a3a" stroke-width="0.9" />
<text x="339.6" y="123.17" font-size="9.3" xml:space="preserve">-0.02</text>
<line x1="366" y1="134.83" x2="368.2" y2="134.83" stroke="#3a3a3a" stroke-width="0.9" />
<line x1="525" y1="134.83" x2="522.8" y2="134.83" stroke="#3a3a3a" stroke-width="0.9" />
<text x="339.6" y="152.5" font-size="9.3" xml:space="preserve">-0.03</text>
<text x="379.3" y="39.8" font-size="9.3" font-weight="bold" xml:space="preserve">c</text>
<text x="377.8" y="125.7" font-size="9.6" font-weight="bold" font-style="italic" xml:space="preserve">T</text><text x="383.66" y="127.9" font-size="6.7" font-weight="bold" font-style="italic" xml:space="preserve">H</text><text x="388.5" y="125.7" font-size="9.6" font-weight="bold" xml:space="preserve"> &lt; </text><text x="399.44" y="125.7" font-size="9.6" font-weight="bold" font-style="italic" xml:space="preserve">T</text>
<text x="377.8" y="140" font-size="9.6" font-weight="bold" xml:space="preserve">40 K - 75 K</text>
<text x="387.3" y="90.1" font-size="9.6" font-weight="bold" xml:space="preserve">Exciton</text>
<text x="470.6" y="83" font-size="9.6" font-weight="bold" xml:space="preserve">Charge-</text>
<text x="470.9" y="95.7" font-size="9.6" font-weight="bold" xml:space="preserve">Transfer</text>
<line x1="366" y1="193.5" x2="525" y2="193.5" stroke="#222" stroke-width="1"/>
<line x1="461.5" y1="149.5" x2="461.5" y2="281.5" stroke="#333" stroke-width="1.1"/>
<path d="M366,192.9 L366,193.5 L366.1,193.5 L366.2,193.5 L366.3,193.5 L366.4,193.5 L366.5,193.5 L366.6,193.5 L366.7,193.5 L366.8,193.5 L366.9,193.5 L367,193.5 L367.1,193.5 L367.2,193.5 L367.31,193.5 L367.41,193.5 L367.51,193.5 L367.61,193.5 L367.71,193.5 L367.81,193.5 L367.91,193.5 L368.01,193.5 L368.11,193.5 L368.22,193.5 L368.32,193.5 L368.42,193.5 L368.52,193.5 L368.62,193.5 L368.72,193.5 L368.83,193.5 L368.93,193.5 L369.03,193.5 L369.13,193.5 L369.23,193.5 L369.34,193.5 L369.44,193.5 L369.54,193.5 L369.64,193.5 L369.75,193.5 L369.85,193.5 L369.95,193.5 L370.05,193.5 L370.16,193.5 L370.26,193.5 L370.36,193.5 L370.47,193.5 L370.57,193.5 L370.67,193.5 L370.78,193.5 L370.88,193.5 L370.98,193.5 L371.09,193.5 L371.19,193.5 L371.29,193.5 L371.4,193.5 L371.5,193.5 L371.6,193.5 L371.71,193.5 L371.81,193.5 L371.92,193.5 L372.02,193.5 L372.12,193.5 L372.23,193.5 L372.33,193.5 L372.44,193.5 L372.54,193.5 L372.65,193.5 L372.75,193.5 L372.85,193.5 L372.96,193.5 L373.06,193.5 L373.17,193.5 L373.27,193.5 L373.38,193.5 L373.48,193.5 L373.59,193.5 L373.69,193.5 L373.8,193.5 L373.9,193.5 L374.01,193.5 L374.12,193.5 L374.22,193.5 L374.33,193.5 L374.43,193.5 L374.54,193.5 L374.64,193.5 L374.75,193.5 L374.86,193.5 L374.96,193.5 L375.07,193.5 L375.17,193.5 L375.28,193.5 L375.39,193.5 L375.49,193.5 L375.6,193.5 L375.71,193.5 L375.81,193.5 L375.92,193.5 L376.03,193.5 L376.13,193.5 L376.24,193.5 L376.35,193.5 L376.46,193.5 L376.56,193.5 L376.67,193.5 L376.78,193.5 L376.88,193.5 L376.99,193.5 L377.1,193.5 L377.21,193.5 L377.31,193.5 L377.42,193.5 L377.53,193.5 L377.64,193.5 L377.75,193.5 L377.85,193.5 L377.96,193.5 L378.07,193.5 L378.18,193.5 L378.29,193.5 L378.4,193.5 L378.5,193.5 L378.61,193.5 L378.72,193.5 L378.83,193.5 L378.94,193.5 L379.05,193.5 L379.16,193.5 L379.27,193.5 L379.38,193.5 L379.48,193.5 L379.59,193.5 L379.7,193.5 L379.81,193.5 L379.92,193.5 L380.03,193.5 L380.14,193.5 L380.25,193.5 L380.36,193.5 L380.47,193.5 L380.58,193.5 L380.69,193.5 L380.8,193.5 L380.91,193.5 L381.02,193.5 L381.13,193.5 L381.24,193.5 L381.35,193.5 L381.46,193.5 L381.57,193.5 L381.68,193.5 L381.79,193.5 L381.91,193.5 L382.02,193.5 L382.13,193.5 L382.24,193.5 L382.35,193.5 L382.46,193.5 L382.57,193.5 L382.68,193.5 L382.8,193.5 L382.91,193.5 L383.02,193.5 L383.13,193.5 L383.24,193.5 L383.35,193.5 L383.47,193.5 L383.58,193.52 L383.69,193.53 L383.8,193.55 L383.91,193.57 L384.03,193.58 L384.14,193.6 L384.25,193.61 L384.36,193.63 L384.48,193.64 L384.59,193.66 L384.7,193.68 L384.81,193.69 L384.93,193.71 L385.04,193.73 L385.15,193.74 L385.27,193.76 L385.38,193.78 L385.49,193.79 L385.61,193.81 L385.72,193.83 L385.83,193.84 L385.95,193.86 L386.06,193.88 L386.18,193.9 L386.29,193.91 L386.4,193.93 L386.52,193.95 L386.63,193.97 L386.75,193.99 L386.86,194.01 L386.97,194.02 L387.09,194.04 L387.2,194.06 L387.32,194.08 L387.43,194.1 L387.55,194.13 L387.66,194.15 L387.78,194.17 L387.89,194.19 L388.01,194.21 L388.12,194.23 L388.24,194.26 L388.35,194.28 L388.47,194.3 L388.58,194.32 L388.7,194.35 L388.81,194.37 L388.93,194.39 L389.05,194.42 L389.16,194.44 L389.28,194.47 L389.39,194.49 L389.51,194.52 L389.63,194.54 L389.74,194.57 L389.86,194.59 L389.97,194.62 L390.09,194.64 L390.21,194.67 L390.32,194.69 L390.44,194.72 L390.56,194.74 L390.67,194.77 L390.79,194.8 L390.91,194.82 L391.03,194.85 L391.14,194.88 L391.26,194.9 L391.38,194.93 L391.49,194.96 L391.61,194.98 L391.73,195.01 L391.85,195.04 L391.97,195.06 L392.08,195.09 L392.2,195.12 L392.32,195.14 L392.44,195.17 L392.56,195.2 L392.67,195.23 L392.79,195.25 L392.91,195.28 L393.03,195.31 L393.15,195.33 L393.27,195.36 L393.38,195.39 L393.5,195.42 L393.62,195.44 L393.74,195.47 L393.86,195.5 L393.98,195.53 L394.1,195.56 L394.22,195.58 L394.34,195.61 L394.46,195.64 L394.58,195.67 L394.7,195.7 L394.82,195.73 L394.94,195.76 L395.06,195.79 L395.18,195.82 L395.3,195.85 L395.42,195.88 L395.54,195.91 L395.66,195.94 L395.78,195.97 L395.91,196 L396.03,196.03 L396.15,196.06 L396.28,196.09 L396.4,196.13 L396.53,196.16 L396.66,196.19 L396.78,196.22 L396.91,196.26 L397.04,196.29 L397.17,196.32 L397.3,196.36 L397.43,196.39 L397.56,196.43 L397.69,196.46 L397.82,196.5 L397.95,196.53 L398.09,196.57 L398.22,196.6 L398.36,196.64 L398.49,196.67 L398.63,196.71 L398.76,196.75 L398.9,196.78 L399.04,196.82 L399.17,196.86 L399.31,196.89 L399.45,196.93 L399.59,196.97 L399.73,197.01 L399.87,197.05 L400.02,197.09 L400.16,197.13 L400.3,197.16 L400.45,197.2 L400.59,197.24 L400.74,197.28 L400.88,197.32 L401.03,197.36 L401.17,197.41 L401.32,197.45 L401.47,197.49 L401.62,197.53 L401.77,197.57 L401.92,197.61 L402.07,197.66 L402.22,197.7 L402.38,197.74 L402.53,197.79 L402.68,197.83 L402.84,197.88 L402.99,197.92 L403.15,197.97 L403.31,198.01 L403.46,198.06 L403.62,198.11 L403.78,198.15 L403.94,198.2 L404.1,198.25 L404.26,198.3 L404.43,198.35 L404.59,198.39 L404.75,198.44 L404.92,198.5 L405.08,198.55 L405.25,198.6 L405.41,198.65 L405.58,198.7 L405.75,198.76 L405.92,198.81 L406.09,198.87 L406.26,198.92 L406.43,198.98 L406.6,199.03 L406.77,199.09 L406.95,199.15 L407.12,199.21 L407.3,199.27 L407.47,199.33 L407.65,199.39 L407.83,199.45 L408,199.51 L408.18,199.57 L408.36,199.64 L408.54,199.7 L408.73,199.77 L408.91,199.83 L409.09,199.9 L409.28,199.96 L409.46,200.03 L409.65,200.1 L409.83,200.17 L410.02,200.24 L410.21,200.31 L410.4,200.38 L410.59,200.46 L410.78,200.53 L410.97,200.6 L411.16,200.68 L411.36,200.75 L411.55,200.83 L411.75,200.91 L411.94,200.99 L412.14,201.07 L412.34,201.15 L412.54,201.23 L412.74,201.31 L412.94,201.39 L413.14,201.48 L413.35,201.56 L413.56,201.65 L413.77,201.74 L413.99,201.83 L414.21,201.92 L414.43,202.02 L414.65,202.11 L414.88,202.21 L415.11,202.31 L415.34,202.41 L415.58,202.51 L415.81,202.62 L416.05,202.73 L416.3,202.84 L416.55,202.95 L416.8,203.07 L417.05,203.18 L417.31,203.31 L417.57,203.43 L417.83,203.56 L418.09,203.69 L418.36,203.83 L418.64,203.97 L418.91,204.11 L419.19,204.26 L419.48,204.41 L419.76,204.57 L420.06,204.73 L420.35,204.9 L420.65,205.08 L420.95,205.26 L421.26,205.45 L421.57,205.65 L421.88,205.86 L422.2,206.08 L422.52,206.3 L422.84,206.53 L423.17,206.77 L423.51,207.02 L423.84,207.28 L424.19,207.55 L424.53,207.83 L424.88,208.12 L425.24,208.43 L425.6,208.75 L425.96,209.09 L426.33,209.44 L426.71,209.8 L427.08,210.17 L427.47,210.55 L427.85,210.95 L428.25,211.35 L428.65,211.77 L429.05,212.2 L429.46,212.65 L429.87,213.11 L430.29,213.6 L430.71,214.1 L431.13,214.63 L431.56,215.17 L431.98,215.74 L432.41,216.34 L432.84,216.96 L433.27,217.62 L433.71,218.31 L434.15,219.03 L434.58,219.78 L435.02,220.55 L435.47,221.34 L435.91,222.16 L436.36,223 L436.81,223.88 L437.26,224.79 L437.71,225.74 L438.16,226.73 L438.62,227.74 L439.08,228.78 L439.54,229.84 L440,230.93 L440.47,232.03 L440.93,233.15 L441.4,234.29 L441.87,235.47 L442.34,236.7 L442.82,237.97 L443.3,239.31 L443.78,240.73 L444.26,242.27 L444.74,243.9 L445.23,245.62 L445.71,247.37 L446.2,249.14 L446.7,250.91 L447.19,252.73 L447.69,254.59 L448.19,256.46 L448.69,258.28 L449.19,260.01 L449.7,261.81 L450.21,263.66 L450.72,265.43 L451.23,267.01 L451.74,268.25 L452.26,269.1 L452.78,269.81 L453.3,270.19 L453.82,270.03 L454.35,269.42 L454.88,268.53 L455.41,266.32 L455.94,262.95 L456.48,259.55 L457.02,256.78 L457.56,254.13 L458.1,251.55 L458.65,249.04 L459.2,246.73 L459.75,244.45 L460.31,241.86 L460.88,238.48 L461.47,234.33 L461.5,234.09 L461.5,192.9 Z" fill="#e41a0c"/>
<path d="M461.5,192.9 L461.5,234.09 L462.06,230.36 L462.67,227.47 L463.29,225.21 L463.92,223.25 L464.56,221.47 L465.22,219.8 L465.88,218.24 L466.56,216.81 L467.26,215.52 L467.96,214.36 L468.69,213.29 L469.42,212.27 L470.17,211.26 L470.93,210.19 L471.71,209.03 L472.51,207.79 L473.31,206.52 L474.14,205.21 L474.98,203.91 L475.84,202.64 L476.71,201.42 L477.6,200.23 L478.51,199.07 L479.43,197.93 L480.37,196.79 L481.33,195.66 L482.31,194.53 L483.31,193.5 L483.31,192.9 Z" fill="#0a0a9a"/>
<polyline points="366,193.4 366.1,193.4 366.2,193.4 366.3,193.4 366.4,193.4 366.5,193.4 366.6,193.4 366.7,193.4 366.8,193.4 366.9,193.4 367,193.4 367.1,193.4 367.2,193.4 367.31,193.4 367.41,193.4 367.51,193.41 367.61,193.41 367.71,193.41 367.81,193.41 367.91,193.41 368.01,193.41 368.11,193.41 368.22,193.41 368.32,193.42 368.42,193.42 368.52,193.42 368.62,193.42 368.72,193.42 368.83,193.42 368.93,193.43 369.03,193.43 369.13,193.43 369.23,193.43 369.34,193.43 369.44,193.44 369.54,193.44 369.64,193.44 369.75,193.44 369.85,193.45 369.95,193.45 370.05,193.45 370.16,193.45 370.26,193.46 370.36,193.46 370.47,193.46 370.57,193.47 370.67,193.47 370.78,193.47 370.88,193.48 370.98,193.48 371.09,193.48 371.19,193.49 371.29,193.49 371.4,193.49 371.5,193.5 371.6,193.5 371.71,193.5 371.81,193.51 371.92,193.51 372.02,193.51 372.12,193.52 372.23,193.52 372.33,193.53 372.44,193.53 372.54,193.53 372.65,193.54 372.75,193.54 372.85,193.55 372.96,193.55 373.06,193.56 373.17,193.56 373.27,193.57 373.38,193.57 373.48,193.57 373.59,193.58 373.69,193.58 373.8,193.59 373.9,193.59 374.01,193.6 374.12,193.6 374.22,193.61 374.33,193.61 374.43,193.62 374.54,193.62 374.64,193.63 374.75,193.63 374.86,193.64 374.96,193.64 375.07,193.65 375.17,193.65 375.28,193.66 375.39,193.67 375.49,193.67 375.6,193.68 375.71,193.68 375.81,193.69 375.92,193.69 376.03,193.7 376.13,193.71 376.24,193.71 376.35,193.72 376.46,193.72 376.56,193.73 376.67,193.73 376.78,193.74 376.88,193.75 376.99,193.75 377.1,193.76 377.21,193.76 377.31,193.77 377.42,193.78 377.53,193.78 377.64,193.79 377.75,193.8 377.85,193.8 377.96,193.81 378.07,193.81 378.18,193.82 378.29,193.83 378.4,193.83 378.5,193.84 378.61,193.85 378.72,193.85 378.83,193.86 378.94,193.87 379.05,193.87 379.16,193.88 379.27,193.89 379.38,193.89 379.48,193.9 379.59,193.91 379.7,193.91 379.81,193.92 379.92,193.93 380.03,193.94 380.14,193.94 380.25,193.95 380.36,193.96 380.47,193.97 380.58,193.98 380.69,193.99 380.8,194 380.91,194.01 381.02,194.02 381.13,194.03 381.24,194.04 381.35,194.05 381.46,194.06 381.57,194.08 381.68,194.09 381.79,194.1 381.91,194.11 382.02,194.12 382.13,194.14 382.24,194.15 382.35,194.16 382.46,194.18 382.57,194.19 382.68,194.2 382.8,194.22 382.91,194.23 383.02,194.25 383.13,194.26 383.24,194.27 383.35,194.29 383.47,194.3 383.58,194.32 383.69,194.33 383.8,194.35 383.91,194.37 384.03,194.38 384.14,194.4 384.25,194.41 384.36,194.43 384.48,194.44 384.59,194.46 384.7,194.48 384.81,194.49 384.93,194.51 385.04,194.53 385.15,194.54 385.27,194.56 385.38,194.58 385.49,194.59 385.61,194.61 385.72,194.63 385.83,194.64 385.95,194.66 386.06,194.68 386.18,194.7 386.29,194.71 386.4,194.73 386.52,194.75 386.63,194.77 386.75,194.79 386.86,194.81 386.97,194.82 387.09,194.84 387.2,194.86 387.32,194.88 387.43,194.9 387.55,194.93 387.66,194.95 387.78,194.97 387.89,194.99 388.01,195.01 388.12,195.03 388.24,195.06 388.35,195.08 388.47,195.1 388.58,195.12 388.7,195.15 388.81,195.17 388.93,195.19 389.05,195.22 389.16,195.24 389.28,195.27 389.39,195.29 389.51,195.32 389.63,195.34 389.74,195.37 389.86,195.39 389.97,195.42 390.09,195.44 390.21,195.47 390.32,195.49 390.44,195.52 390.56,195.54 390.67,195.57 390.79,195.6 390.91,195.62 391.03,195.65 391.14,195.68 391.26,195.7 391.38,195.73 391.49,195.76 391.61,195.78 391.73,195.81 391.85,195.84 391.97,195.86 392.08,195.89 392.2,195.92 392.32,195.94 392.44,195.97 392.56,196 392.67,196.03 392.79,196.05 392.91,196.08 393.03,196.11 393.15,196.13 393.27,196.16 393.38,196.19 393.5,196.22 393.62,196.24 393.74,196.27 393.86,196.3 393.98,196.33 394.1,196.36 394.22,196.38 394.34,196.41 394.46,196.44 394.58,196.47 394.7,196.5 394.82,196.53 394.94,196.56 395.06,196.59 395.18,196.62 395.3,196.65 395.42,196.68 395.54,196.71 395.66,196.74 395.78,196.77 395.91,196.8 396.03,196.83 396.15,196.86 396.28,196.89 396.4,196.93 396.53,196.96 396.66,196.99 396.78,197.02 396.91,197.06 397.04,197.09 397.17,197.12 397.3,197.16 397.43,197.19 397.56,197.23 397.69,197.26 397.82,197.3 397.95,197.33 398.09,197.37 398.22,197.4 398.36,197.44 398.49,197.47 398.63,197.51 398.76,197.55 398.9,197.58 399.04,197.62 399.17,197.66 399.31,197.69 399.45,197.73 399.59,197.77 399.73,197.81 399.87,197.85 400.02,197.89 400.16,197.93 400.3,197.96 400.45,198 400.59,198.04 400.74,198.08 400.88,198.12 401.03,198.16 401.17,198.21 401.32,198.25 401.47,198.29 401.62,198.33 401.77,198.37 401.92,198.41 402.07,198.46 402.22,198.5 402.38,198.54 402.53,198.59 402.68,198.63 402.84,198.68 402.99,198.72 403.15,198.77 403.31,198.81 403.46,198.86 403.62,198.91 403.78,198.95 403.94,199" fill="none" stroke="none" marker-start="url(#m1)" marker-mid="url(#m1)" marker-end="url(#m1)"/>
<polyline points="403.94,199 404.1,199.05 404.26,199.1 404.43,199.15 404.59,199.19 404.75,199.24 404.92,199.3 405.08,199.35 405.25,199.4 405.41,199.45 405.58,199.5 405.75,199.56 405.92,199.61 406.09,199.67 406.26,199.72 406.43,199.78 406.6,199.83 406.77,199.89 406.95,199.95 407.12,200.01 407.3,200.07 407.47,200.13 407.65,200.19 407.83,200.25 408,200.31 408.18,200.37 408.36,200.44 408.54,200.5 408.73,200.57 408.91,200.63 409.09,200.7 409.28,200.76 409.46,200.83 409.65,200.9 409.83,200.97 410.02,201.04 410.21,201.11 410.4,201.18 410.59,201.26 410.78,201.33 410.97,201.4 411.16,201.48 411.36,201.55 411.55,201.63 411.75,201.71 411.94,201.79 412.14,201.87 412.34,201.95 412.54,202.03 412.74,202.11 412.94,202.19 413.14,202.28 413.35,202.36 413.56,202.45 413.77,202.54 413.99,202.63 414.21,202.72 414.43,202.82 414.65,202.91 414.88,203.01 415.11,203.11 415.34,203.21 415.58,203.31 415.81,203.42 416.05,203.53 416.3,203.64 416.55,203.75 416.8,203.87 417.05,203.98 417.31,204.11 417.57,204.23 417.83,204.36 418.09,204.49 418.36,204.63 418.64,204.77 418.91,204.91 419.19,205.06 419.48,205.21 419.76,205.37 420.06,205.53 420.35,205.7 420.65,205.88 420.95,206.06 421.26,206.25 421.57,206.45 421.88,206.66 422.2,206.88 422.52,207.1 422.84,207.33" fill="none" stroke="none" marker-start="url(#m2)" marker-mid="url(#m2)" marker-end="url(#m2)"/>
<polyline points="422.84,207.33 423.17,207.57 423.51,207.82 423.84,208.08 424.19,208.35 424.53,208.63 424.88,208.92 425.24,209.23 425.6,209.55 425.96,209.89 426.33,210.24 426.71,210.6 427.08,210.97 427.47,211.35 427.85,211.75 428.25,212.15 428.65,212.57 429.05,213 429.46,213.45 429.87,213.91 430.29,214.4 430.71,214.9 431.13,215.43 431.56,215.97 431.98,216.54 432.41,217.14 432.84,217.76 433.27,218.42 433.71,219.11 434.15,219.83 434.58,220.58 435.02,221.35 435.47,222.14 435.91,222.96 436.36,223.8 436.81,224.68 437.26,225.59 437.71,226.54 438.16,227.53 438.62,228.54 439.08,229.58 439.54,230.64 440,231.73 440.47,232.83 440.93,233.95 441.4,235.09 441.87,236.27 442.34,237.5 442.82,238.77 443.3,240.11 443.78,241.53 444.26,243.07 444.74,244.7 445.23,246.42 445.71,248.17 446.2,249.94 446.7,251.71 447.19,253.53 447.69,255.39 448.19,257.26 448.69,259.08 449.19,260.81 449.7,262.61 450.21,264.46 450.72,266.23 451.23,267.81 451.74,269.05 452.26,269.9 452.78,270.61 453.3,270.99 453.82,270.83 454.35,270.22 454.88,269.33 455.41,267.12 455.94,263.75 456.48,260.35 457.02,257.58 457.56,254.93 458.1,252.35 458.65,249.84 459.2,247.53 459.75,245.25 460.31,242.66 460.88,239.28 461.47,235.13 462.06,231.16 462.67,228.27 463.29,226.01 463.92,224.05 464.56,222.27 465.22,220.6 465.88,219.04 466.56,217.61 467.26,216.32 467.96,215.16 468.69,214.09 469.42,213.07 470.17,212.06 470.93,210.99 471.71,209.83 472.51,208.59 473.31,207.32 474.14,206.01 474.98,204.71 475.84,203.44 476.71,202.22 477.6,201.03 478.51,199.87 479.43,198.73 480.37,197.59 481.33,196.46 482.31,195.33 483.31,194.23 484.33,193.14 485.37,192.03 486.42,190.86 487.5,189.59 488.6,188.26 489.72,186.92 490.86,185.65 492.02,184.48 493.21,183.36 494.42,182.29 495.65,181.26 496.91,180.28 498.19,179.36 499.49,178.46 500.82,177.56 502.18,176.65 503.56,175.76 504.97,174.78 506.41,173.54 507.87,172.09 509.37,170.63 510.9,169.28 512.47,167.94 514.07,166.51 515.7,164.92 517.38,163.2 519.08,161.42 520.83,159.63 522.62,157.79 524.44,155.89 525,155.31" fill="none" stroke="none" marker-start="url(#m)" marker-mid="url(#m)" marker-end="url(#m)"/>
<line x1="366" y1="149.5" x2="366" y2="281.5" stroke="#7a7a7a" stroke-width="1.05" />
<line x1="525" y1="149.5" x2="525" y2="281.5" stroke="#7a7a7a" stroke-width="1.05" />
<line x1="365.5" y1="149.5" x2="525.5" y2="149.5" stroke="#262626" stroke-width="1" />
<line x1="365.5" y1="281.5" x2="525.5" y2="281.5" stroke="#262626" stroke-width="1" />
<line x1="380.55" y1="281.5" x2="380.55" y2="279.3" stroke="#3a3a3a" stroke-width="0.9" />
<line x1="380.55" y1="149.5" x2="380.55" y2="151.7" stroke="#3a3a3a" stroke-width="0.9" />
<line x1="395.1" y1="281.5" x2="395.1" y2="277.5" stroke="#3a3a3a" stroke-width="0.9" />
<line x1="395.1" y1="149.5" x2="395.1" y2="153.5" stroke="#3a3a3a" stroke-width="0.9" />
<line x1="409.65" y1="281.5" x2="409.65" y2="279.3" stroke="#3a3a3a" stroke-width="0.9" />
<line x1="409.65" y1="149.5" x2="409.65" y2="151.7" stroke="#3a3a3a" stroke-width="0.9" />
<line x1="424.2" y1="281.5" x2="424.2" y2="277.5" stroke="#3a3a3a" stroke-width="0.9" />
<line x1="424.2" y1="149.5" x2="424.2" y2="153.5" stroke="#3a3a3a" stroke-width="0.9" />
<line x1="438.75" y1="281.5" x2="438.75" y2="279.3" stroke="#3a3a3a" stroke-width="0.9" />
<line x1="438.75" y1="149.5" x2="438.75" y2="151.7" stroke="#3a3a3a" stroke-width="0.9" />
<line x1="453.3" y1="281.5" x2="453.3" y2="277.5" stroke="#3a3a3a" stroke-width="0.9" />
<line x1="453.3" y1="149.5" x2="453.3" y2="153.5" stroke="#3a3a3a" stroke-width="0.9" />
<line x1="467.85" y1="281.5" x2="467.85" y2="279.3" stroke="#3a3a3a" stroke-width="0.9" />
<line x1="467.85" y1="149.5" x2="467.85" y2="151.7" stroke="#3a3a3a" stroke-width="0.9" />
<line x1="482.4" y1="281.5" x2="482.4" y2="277.5" stroke="#3a3a3a" stroke-width="0.9" />
<line x1="482.4" y1="149.5" x2="482.4" y2="153.5" stroke="#3a3a3a" stroke-width="0.9" />
<line x1="496.95" y1="281.5" x2="496.95" y2="279.3" stroke="#3a3a3a" stroke-width="0.9" />
<line x1="496.95" y1="149.5" x2="496.95" y2="151.7" stroke="#3a3a3a" stroke-width="0.9" />
<line x1="511.5" y1="281.5" x2="511.5" y2="277.5" stroke="#3a3a3a" stroke-width="0.9" />
<line x1="511.5" y1="149.5" x2="511.5" y2="153.5" stroke="#3a3a3a" stroke-width="0.9" />
<line x1="366" y1="164.17" x2="370" y2="164.17" stroke="#3a3a3a" stroke-width="0.9" />
<line x1="525" y1="164.17" x2="521" y2="164.17" stroke="#3a3a3a" stroke-width="0.9" />
<text x="342.7" y="167.17" font-size="9.3" xml:space="preserve">0.01</text>
<line x1="366" y1="178.83" x2="368.2" y2="178.83" stroke="#3a3a3a" stroke-width="0.9" />
<line x1="525" y1="178.83" x2="522.8" y2="178.83" stroke="#3a3a3a" stroke-width="0.9" />
<line x1="366" y1="193.5" x2="370" y2="193.5" stroke="#3a3a3a" stroke-width="0.9" />
<line x1="525" y1="193.5" x2="521" y2="193.5" stroke="#3a3a3a" stroke-width="0.9" />
<text x="342.7" y="196.5" font-size="9.3" xml:space="preserve">0.00</text>
<line x1="366" y1="208.17" x2="368.2" y2="208.17" stroke="#3a3a3a" stroke-width="0.9" />
<line x1="525" y1="208.17" x2="522.8" y2="208.17" stroke="#3a3a3a" stroke-width="0.9" />
<line x1="366" y1="222.83" x2="370" y2="222.83" stroke="#3a3a3a" stroke-width="0.9" />
<line x1="525" y1="222.83" x2="521" y2="222.83" stroke="#3a3a3a" stroke-width="0.9" />
<text x="339.6" y="225.83" font-size="9.3" xml:space="preserve">-0.01</text>
<line x1="366" y1="237.5" x2="368.2" y2="237.5" stroke="#3a3a3a" stroke-width="0.9" />
<line x1="525" y1="237.5" x2="522.8" y2="237.5" stroke="#3a3a3a" stroke-width="0.9" />
<line x1="366" y1="252.17" x2="370" y2="252.17" stroke="#3a3a3a" stroke-width="0.9" />
<line x1="525" y1="252.17" x2="521" y2="252.17" stroke="#3a3a3a" stroke-width="0.9" />
<text x="339.6" y="255.17" font-size="9.3" xml:space="preserve">-0.02</text>
<line x1="366" y1="266.83" x2="368.2" y2="266.83" stroke="#3a3a3a" stroke-width="0.9" />
<line x1="525" y1="266.83" x2="522.8" y2="266.83" stroke="#3a3a3a" stroke-width="0.9" />
<text x="339.6" y="284.5" font-size="9.3" xml:space="preserve">-0.03</text>
<text x="379.8" y="175.3" font-size="9.3" font-weight="bold" xml:space="preserve">d</text>
<text x="377.8" y="257.7" font-size="9.6" font-weight="bold" font-style="italic" xml:space="preserve">T</text><text x="383.66" y="259.9" font-size="6.7" font-weight="bold" font-style="italic" xml:space="preserve">N</text><text x="388.5" y="257.7" font-size="9.6" font-weight="bold" xml:space="preserve"> &lt; </text><text x="399.44" y="257.7" font-size="9.6" font-weight="bold" font-style="italic" xml:space="preserve">T</text><text x="405.31" y="257.7" font-size="9.6" font-weight="bold" xml:space="preserve"> &lt; </text><text x="416.25" y="257.7" font-size="9.6" font-weight="bold" font-style="italic" xml:space="preserve">T</text><text x="422.11" y="259.9" font-size="6.7" font-weight="bold" font-style="italic" xml:space="preserve">H</text>
<text x="377.8" y="272" font-size="9.6" font-weight="bold" xml:space="preserve">16 K - 40 K</text>
<line x1="366" y1="325.17" x2="525" y2="325.17" stroke="#222" stroke-width="1"/>
<line x1="461.5" y1="281.5" x2="461.5" y2="412.5" stroke="#333" stroke-width="1.1"/>
<path d="M366,324.57 L366,325.17 L366.1,325.17 L366.2,325.17 L366.3,325.17 L366.4,325.17 L366.5,325.17 L366.6,325.17 L366.7,325.17 L366.8,325.17 L366.9,325.17 L367,325.17 L367.1,325.17 L367.2,325.17 L367.31,325.17 L367.41,325.17 L367.51,325.17 L367.61,325.17 L367.71,325.17 L367.81,325.17 L367.91,325.17 L368.01,325.17 L368.11,325.17 L368.22,325.17 L368.32,325.17 L368.42,325.17 L368.52,325.17 L368.62,325.17 L368.72,325.17 L368.83,325.17 L368.93,325.17 L369.03,325.17 L369.13,325.17 L369.23,325.17 L369.34,325.17 L369.44,325.17 L369.54,325.17 L369.64,325.17 L369.75,325.17 L369.85,325.17 L369.95,325.17 L370.05,325.17 L370.16,325.17 L370.26,325.17 L370.36,325.17 L370.47,325.17 L370.57,325.17 L370.67,325.17 L370.78,325.17 L370.88,325.17 L370.98,325.17 L371.09,325.17 L371.19,325.17 L371.29,325.17 L371.4,325.17 L371.5,325.17 L371.6,325.17 L371.71,325.17 L371.81,325.17 L371.92,325.17 L372.02,325.17 L372.12,325.17 L372.23,325.17 L372.33,325.17 L372.44,325.17 L372.54,325.17 L372.65,325.17 L372.75,325.17 L372.85,325.17 L372.96,325.17 L373.06,325.17 L373.17,325.17 L373.27,325.17 L373.38,325.17 L373.48,325.17 L373.59,325.17 L373.69,325.17 L373.8,325.17 L373.9,325.17 L374.01,325.17 L374.12,325.17 L374.22,325.17 L374.33,325.17 L374.43,325.17 L374.54,325.17 L374.64,325.17 L374.75,325.17 L374.86,325.17 L374.96,325.17 L375.07,325.17 L375.17,325.17 L375.28,325.17 L375.39,325.17 L375.49,325.17 L375.6,325.17 L375.71,325.17 L375.81,325.17 L375.92,325.17 L376.03,325.17 L376.13,325.17 L376.24,325.17 L376.35,325.17 L376.46,325.17 L376.56,325.17 L376.67,325.17 L376.78,325.17 L376.88,325.17 L376.99,325.17 L377.1,325.17 L377.21,325.17 L377.31,325.17 L377.42,325.17 L377.53,325.17 L377.64,325.17 L377.75,325.17 L377.85,325.17 L377.96,325.17 L378.07,325.17 L378.18,325.17 L378.29,325.17 L378.4,325.17 L378.5,325.17 L378.61,325.17 L378.72,325.17 L378.83,325.17 L378.94,325.17 L379.05,325.17 L379.16,325.17 L379.27,325.17 L379.38,325.17 L379.48,325.17 L379.59,325.17 L379.7,325.17 L379.81,325.17 L379.92,325.17 L380.03,325.17 L380.14,325.17 L380.25,325.17 L380.36,325.17 L380.47,325.17 L380.58,325.17 L380.69,325.17 L380.8,325.17 L380.91,325.17 L381.02,325.17 L381.13,325.17 L381.24,325.17 L381.35,325.17 L381.46,325.17 L381.57,325.17 L381.68,325.17 L381.79,325.18 L381.91,325.19 L382.02,325.2 L382.13,325.21 L382.24,325.22 L382.35,325.23 L382.46,325.24 L382.57,325.25 L382.68,325.26 L382.8,325.27 L382.91,325.28 L383.02,325.29 L383.13,325.3 L383.24,325.31 L383.35,325.32 L383.47,325.34 L383.58,325.35 L383.69,325.36 L383.8,325.37 L383.91,325.38 L384.03,325.39 L384.14,325.41 L384.25,325.42 L384.36,325.43 L384.48,325.44 L384.59,325.45 L384.7,325.47 L384.81,325.48 L384.93,325.49 L385.04,325.51 L385.15,325.52 L385.27,325.53 L385.38,325.54 L385.49,325.56 L385.61,325.57 L385.72,325.58 L385.83,325.6 L385.95,325.61 L386.06,325.63 L386.18,325.64 L386.29,325.65 L386.4,325.67 L386.52,325.68 L386.63,325.7 L386.75,325.71 L386.86,325.72 L386.97,325.74 L387.09,325.75 L387.2,325.77 L387.32,325.78 L387.43,325.8 L387.55,325.81 L387.66,325.83 L387.78,325.84 L387.89,325.86 L388.01,325.87 L388.12,325.89 L388.24,325.9 L388.35,325.92 L388.47,325.94 L388.58,325.95 L388.7,325.97 L388.81,325.98 L388.93,326 L389.05,326.02 L389.16,326.03 L389.28,326.05 L389.39,326.06 L389.51,326.08 L389.63,326.1 L389.74,326.11 L389.86,326.13 L389.97,326.15 L390.09,326.16 L390.21,326.18 L390.32,326.2 L390.44,326.21 L390.56,326.23 L390.67,326.25 L390.79,326.27 L390.91,326.28 L391.03,326.3 L391.14,326.32 L391.26,326.34 L391.38,326.35 L391.49,326.37 L391.61,326.39 L391.73,326.41 L391.85,326.42 L391.97,326.44 L392.08,326.46 L392.2,326.48 L392.32,326.5 L392.44,326.51 L392.56,326.53 L392.67,326.55 L392.79,326.57 L392.91,326.59 L393.03,326.6 L393.15,326.62 L393.27,326.64 L393.38,326.66 L393.5,326.68 L393.62,326.7 L393.74,326.72 L393.86,326.74 L393.98,326.76 L394.1,326.78 L394.22,326.8 L394.34,326.83 L394.46,326.85 L394.58,326.87 L394.7,326.89 L394.82,326.91 L394.94,326.94 L395.06,326.96 L395.18,326.98 L395.3,327.01 L395.42,327.03 L395.54,327.06 L395.66,327.08 L395.78,327.1 L395.91,327.13 L396.03,327.16 L396.15,327.18 L396.28,327.21 L396.4,327.23 L396.53,327.26 L396.66,327.29 L396.78,327.31 L396.91,327.34 L397.04,327.37 L397.17,327.4 L397.3,327.43 L397.43,327.46 L397.56,327.48 L397.69,327.51 L397.82,327.54 L397.95,327.57 L398.09,327.6 L398.22,327.63 L398.36,327.66 L398.49,327.69 L398.63,327.73 L398.76,327.76 L398.9,327.79 L399.04,327.82 L399.17,327.85 L399.31,327.88 L399.45,327.92 L399.59,327.95 L399.73,327.98 L399.87,328.01 L400.02,328.05 L400.16,328.08 L400.3,328.11 L400.45,328.15 L400.59,328.18 L400.74,328.22 L400.88,328.25 L401.03,328.28 L401.17,328.32 L401.32,328.35 L401.47,328.39 L401.62,328.42 L401.77,328.46 L401.92,328.49 L402.07,328.53 L402.22,328.57 L402.38,328.6 L402.53,328.64 L402.68,328.68 L402.84,328.72 L402.99,328.76 L403.15,328.8 L403.31,328.84 L403.46,328.88 L403.62,328.92 L403.78,328.96 L403.94,329 L404.1,329.04 L404.26,329.08 L404.43,329.12 L404.59,329.16 L404.75,329.21 L404.92,329.25 L405.08,329.29 L405.25,329.34 L405.41,329.38 L405.58,329.42 L405.75,329.47 L405.92,329.51 L406.09,329.56 L406.26,329.6 L406.43,329.65 L406.6,329.7 L406.77,329.74 L406.95,329.79 L407.12,329.84 L407.3,329.88 L407.47,329.93 L407.65,329.98 L407.83,330.03 L408,330.08 L408.18,330.12 L408.36,330.17 L408.54,330.22 L408.73,330.27 L408.91,330.32 L409.09,330.37 L409.28,330.42 L409.46,330.47 L409.65,330.52 L409.83,330.57 L410.02,330.62 L410.21,330.67 L410.4,330.72 L410.59,330.77 L410.78,330.82 L410.97,330.87 L411.16,330.92 L411.36,330.98 L411.55,331.03 L411.75,331.08 L411.94,331.13 L412.14,331.18 L412.34,331.24 L412.54,331.29 L412.74,331.35 L412.94,331.4 L413.14,331.46 L413.35,331.51 L413.56,331.57 L413.77,331.63 L413.99,331.69 L414.21,331.75 L414.43,331.82 L414.65,331.88 L414.88,331.95 L415.11,332.01 L415.34,332.08 L415.58,332.15 L415.81,332.22 L416.05,332.3 L416.3,332.37 L416.55,332.45 L416.8,332.53 L417.05,332.62 L417.31,332.7 L417.57,332.79 L417.83,332.88 L418.09,332.97 L418.36,333.06 L418.64,333.15 L418.91,333.25 L419.19,333.34 L419.48,333.45 L419.76,333.55 L420.06,333.65 L420.35,333.76 L420.65,333.88 L420.95,334 L421.26,334.12 L421.57,334.25 L421.88,334.38 L422.2,334.52 L422.52,334.66 L422.84,334.81 L423.17,334.97 L423.51,335.14 L423.84,335.32 L424.19,335.5 L424.53,335.71 L424.88,335.93 L425.24,336.17 L425.6,336.43 L425.96,336.7 L426.33,336.99 L426.71,337.3 L427.08,337.61 L427.47,337.94 L427.85,338.28 L428.25,338.63 L428.65,339 L429.05,339.39 L429.46,339.79 L429.87,340.22 L430.29,340.67 L430.71,341.14 L431.13,341.63 L431.56,342.13 L431.98,342.65 L432.41,343.2 L432.84,343.8 L433.27,344.45 L433.71,345.12 L434.15,345.81 L434.58,346.51 L435.02,347.2 L435.47,347.87 L435.91,348.51 L436.36,349.11 L436.81,349.68 L437.26,350.25 L437.71,350.8 L438.16,351.34 L438.62,351.87 L439.08,352.39 L439.54,352.9 L440,353.39 L440.47,353.87 L440.93,354.34 L441.4,354.78 L441.87,355.22 L442.34,355.65 L442.82,356.08 L443.3,356.51 L443.78,356.94 L444.26,357.33 L444.74,357.7 L445.23,358.1 L445.71,358.54 L446.2,359.08 L446.7,359.78 L447.19,360.7 L447.69,361.77 L448.19,362.93 L448.69,364.18 L449.19,365.6 L449.7,367.14 L450.21,368.71 L450.72,370.25 L451.23,371.97 L451.74,373.81 L452.26,375.52 L452.78,376.86 L453.3,377.65 L453.82,378.24 L454.35,378.67 L454.88,378.79 L455.41,378.09 L455.94,376.66 L456.48,374.96 L457.02,372.76 L457.56,370.06 L458.1,367.55 L458.65,364.99 L459.2,362.43 L459.75,359.97 L460.31,357.65 L460.88,355.48 L461.47,353.37 L461.5,353.25 L461.5,324.57 Z" fill="#e41a0c"/>
<path d="M461.5,324.57 L461.5,353.25 L462.06,351.49 L462.67,349.97 L463.29,348.63 L463.92,347.42 L464.56,346.31 L465.22,345.31 L465.88,344.39 L466.56,343.55 L467.26,342.78 L467.96,342.06 L468.69,341.38 L469.42,340.71 L470.17,340.04 L470.93,339.35 L471.71,338.63 L472.51,337.92 L473.31,337.23 L474.14,336.52 L474.98,335.8 L475.84,335.03 L476.71,334.2 L477.6,333.3 L478.51,332.36 L479.43,331.36 L480.37,330.32 L481.33,329.24 L482.31,328.13 L483.31,326.95 L484.33,325.72 L485.37,325.17 L485.37,324.57 Z" fill="#0a0a9a"/>
<polyline points="366,325.2 366.1,325.2 366.2,325.2 366.3,325.2 366.4,325.2 366.5,325.2 366.6,325.2 366.7,325.2 366.8,325.21 366.9,325.21 367,325.21 367.1,325.21 367.2,325.21 367.31,325.21 367.41,325.22 367.51,325.22 367.61,325.22 367.71,325.22 367.81,325.22 367.91,325.22 368.01,325.23 368.11,325.23 368.22,325.23 368.32,325.23 368.42,325.24 368.52,325.24 368.62,325.24 368.72,325.24 368.83,325.25 368.93,325.25 369.03,325.25 369.13,325.26 369.23,325.26 369.34,325.26 369.44,325.27 369.54,325.27 369.64,325.27 369.75,325.28 369.85,325.28 369.95,325.28 370.05,325.29 370.16,325.29 370.26,325.29 370.36,325.3 370.47,325.3 370.57,325.3 370.67,325.31 370.78,325.31 370.88,325.32 370.98,325.32 371.09,325.32 371.19,325.33 371.29,325.33 371.4,325.34 371.5,325.34 371.6,325.35 371.71,325.35 371.81,325.36 371.92,325.36 372.02,325.37 372.12,325.37 372.23,325.37 372.33,325.38 372.44,325.38 372.54,325.39 372.65,325.39 372.75,325.4 372.85,325.4 372.96,325.41 373.06,325.42 373.17,325.42 373.27,325.43 373.38,325.43 373.48,325.44 373.59,325.44 373.69,325.45 373.8,325.45 373.9,325.46 374.01,325.46 374.12,325.47 374.22,325.48 374.33,325.48 374.43,325.49 374.54,325.49 374.64,325.5 374.75,325.51 374.86,325.51 374.96,325.52 375.07,325.52 375.17,325.53 375.28,325.54 375.39,325.54 375.49,325.55 375.6,325.55 375.71,325.56 375.81,325.57 375.92,325.57 376.03,325.58 376.13,325.59 376.24,325.59 376.35,325.6 376.46,325.61 376.56,325.61 376.67,325.62 376.78,325.63 376.88,325.63 376.99,325.64 377.1,325.65 377.21,325.65 377.31,325.66 377.42,325.67 377.53,325.67 377.64,325.68 377.75,325.69 377.85,325.69 377.96,325.7 378.07,325.71 378.18,325.71 378.29,325.72 378.4,325.73 378.5,325.74 378.61,325.74 378.72,325.75 378.83,325.76 378.94,325.76 379.05,325.77 379.16,325.78 379.27,325.78 379.38,325.79 379.48,325.8 379.59,325.81 379.7,325.81 379.81,325.82 379.92,325.83 380.03,325.84 380.14,325.84 380.25,325.85 380.36,325.86 380.47,325.87 380.58,325.88 380.69,325.89 380.8,325.89 380.91,325.9 381.02,325.91 381.13,325.92 381.24,325.93 381.35,325.94 381.46,325.95 381.57,325.96 381.68,325.97 381.79,325.98 381.91,325.99 382.02,326 382.13,326.01 382.24,326.02 382.35,326.03 382.46,326.04 382.57,326.05 382.68,326.06 382.8,326.07 382.91,326.08 383.02,326.09 383.13,326.1 383.24,326.11 383.35,326.12 383.47,326.14 383.58,326.15 383.69,326.16 383.8,326.17 383.91,326.18 384.03,326.19 384.14,326.21 384.25,326.22 384.36,326.23 384.48,326.24 384.59,326.25 384.7,326.27 384.81,326.28 384.93,326.29 385.04,326.31 385.15,326.32 385.27,326.33 385.38,326.34 385.49,326.36 385.61,326.37 385.72,326.38 385.83,326.4 385.95,326.41 386.06,326.43 386.18,326.44 386.29,326.45 386.4,326.47 386.52,326.48 386.63,326.5 386.75,326.51 386.86,326.52 386.97,326.54 387.09,326.55 387.2,326.57 387.32,326.58 387.43,326.6 387.55,326.61 387.66,326.63 387.78,326.64 387.89,326.66 388.01,326.67 388.12,326.69 388.24,326.7 388.35,326.72 388.47,326.74 388.58,326.75 388.7,326.77 388.81,326.78 388.93,326.8 389.05,326.82 389.16,326.83 389.28,326.85 389.39,326.86 389.51,326.88 389.63,326.9 389.74,326.91 389.86,326.93 389.97,326.95 390.09,326.96 390.21,326.98 390.32,327 390.44,327.01 390.56,327.03 390.67,327.05 390.79,327.07 390.91,327.08 391.03,327.1 391.14,327.12 391.26,327.14 391.38,327.15 391.49,327.17 391.61,327.19 391.73,327.21 391.85,327.22 391.97,327.24 392.08,327.26 392.2,327.28 392.32,327.3 392.44,327.31 392.56,327.33 392.67,327.35 392.79,327.37 392.91,327.39 393.03,327.4 393.15,327.42 393.27,327.44 393.38,327.46 393.5,327.48 393.62,327.5 393.74,327.52 393.86,327.54 393.98,327.56 394.1,327.58 394.22,327.6 394.34,327.63 394.46,327.65 394.58,327.67 394.7,327.69 394.82,327.71 394.94,327.74 395.06,327.76 395.18,327.78 395.3,327.81 395.42,327.83 395.54,327.86 395.66,327.88 395.78,327.9 395.91,327.93 396.03,327.96 396.15,327.98 396.28,328.01 396.4,328.03 396.53,328.06 396.66,328.09 396.78,328.11 396.91,328.14 397.04,328.17 397.17,328.2 397.3,328.23 397.43,328.26 397.56,328.28 397.69,328.31 397.82,328.34 397.95,328.37 398.09,328.4 398.22,328.43 398.36,328.46 398.49,328.49 398.63,328.53 398.76,328.56 398.9,328.59 399.04,328.62 399.17,328.65 399.31,328.68 399.45,328.72 399.59,328.75 399.73,328.78 399.87,328.81 400.02,328.85 400.16,328.88 400.3,328.91 400.45,328.95 400.59,328.98 400.74,329.02 400.88,329.05 401.03,329.08 401.17,329.12 401.32,329.15 401.47,329.19 401.62,329.22 401.77,329.26 401.92,329.29 402.07,329.33 402.22,329.37 402.38,329.4 402.53,329.44 402.68,329.48 402.84,329.52 402.99,329.56 403.15,329.6 403.31,329.64 403.46,329.68 403.62,329.72 403.78,329.76 403.94,329.8" fill="none" stroke="none" marker-start="url(#m1)" marker-mid="url(#m1)" marker-end="url(#m1)"/>
<polyline points="403.94,329.8 404.1,329.84 404.26,329.88 404.43,329.92 404.59,329.96 404.75,330.01 404.92,330.05 405.08,330.09 405.25,330.14 405.41,330.18 405.58,330.22 405.75,330.27 405.92,330.31 406.09,330.36 406.26,330.4 406.43,330.45 406.6,330.5 406.77,330.54 406.95,330.59 407.12,330.64 407.3,330.68 407.47,330.73 407.65,330.78 407.83,330.83 408,330.88 408.18,330.92 408.36,330.97 408.54,331.02 408.73,331.07 408.91,331.12 409.09,331.17 409.28,331.22 409.46,331.27 409.65,331.32 409.83,331.37 410.02,331.42 410.21,331.47 410.4,331.52 410.59,331.57 410.78,331.62 410.97,331.67 411.16,331.72 411.36,331.78 411.55,331.83 411.75,331.88 411.94,331.93 412.14,331.98 412.34,332.04 412.54,332.09 412.74,332.15 412.94,332.2 413.14,332.26 413.35,332.31 413.56,332.37 413.77,332.43 413.99,332.49 414.21,332.55 414.43,332.62 414.65,332.68 414.88,332.75 415.11,332.81 415.34,332.88 415.58,332.95 415.81,333.02 416.05,333.1 416.3,333.17 416.55,333.25 416.8,333.33 417.05,333.42 417.31,333.5 417.57,333.59 417.83,333.68 418.09,333.77 418.36,333.86 418.64,333.95 418.91,334.05 419.19,334.14 419.48,334.25 419.76,334.35 420.06,334.45 420.35,334.56 420.65,334.68 420.95,334.8 421.26,334.92 421.57,335.05 421.88,335.18 422.2,335.32 422.52,335.46 422.84,335.61" fill="none" stroke="none" marker-start="url(#m2)" marker-mid="url(#m2)" marker-end="url(#m2)"/>
<polyline points="422.84,335.61 423.17,335.77 423.51,335.94 423.84,336.12 424.19,336.3 424.53,336.51 424.88,336.73 425.24,336.97 425.6,337.23 425.96,337.5 426.33,337.79 426.71,338.1 427.08,338.41 427.47,338.74 427.85,339.08 428.25,339.43 428.65,339.8 429.05,340.19 429.46,340.59 429.87,341.02 430.29,341.47 430.71,341.94 431.13,342.43 431.56,342.93 431.98,343.45 432.41,344 432.84,344.6 433.27,345.25 433.71,345.92 434.15,346.61 434.58,347.31 435.02,348 435.47,348.67 435.91,349.31 436.36,349.91 436.81,350.48 437.26,351.05 437.71,351.6 438.16,352.14 438.62,352.67 439.08,353.19 439.54,353.7 440,354.19 440.47,354.67 440.93,355.14 441.4,355.58 441.87,356.02 442.34,356.45 442.82,356.88 443.3,357.31 443.78,357.74 444.26,358.13 444.74,358.5 445.23,358.9 445.71,359.34 446.2,359.88 446.7,360.58 447.19,361.5 447.69,362.57 448.19,363.73 448.69,364.98 449.19,366.4 449.7,367.94 450.21,369.51 450.72,371.05 451.23,372.77 451.74,374.61 452.26,376.32 452.78,377.66 453.3,378.45 453.82,379.04 454.35,379.47 454.88,379.59 455.41,378.89 455.94,377.46 456.48,375.76 457.02,373.56 457.56,370.86 458.1,368.35 458.65,365.79 459.2,363.23 459.75,360.77 460.31,358.45 460.88,356.28 461.47,354.17 462.06,352.29 462.67,350.77 463.29,349.43 463.92,348.22 464.56,347.11 465.22,346.11 465.88,345.19 466.56,344.35 467.26,343.58 467.96,342.86 468.69,342.18 469.42,341.51 470.17,340.84 470.93,340.15 471.71,339.43 472.51,338.72 473.31,338.03 474.14,337.32 474.98,336.6 475.84,335.83 476.71,335 477.6,334.1 478.51,333.16 479.43,332.16 480.37,331.12 481.33,330.04 482.31,328.93 483.31,327.75 484.33,326.52 485.37,325.25 486.42,323.94 487.5,322.52 488.6,321.08 489.72,319.72 490.86,318.56 492.02,317.54 493.21,316.61 494.42,315.73 495.65,314.9 496.91,314.12 498.19,313.38 499.49,312.65 500.82,311.91 502.18,311.21 503.56,310.49 504.97,309.7 506.41,308.8 507.87,307.83 509.37,306.79 510.9,305.69 512.47,304.49 514.07,303.24 515.7,302.03 517.38,300.87 519.08,299.73 520.83,298.61 522.62,297.49 524.44,296.4 525,296.07" fill="none" stroke="none" marker-start="url(#m)" marker-mid="url(#m)" marker-end="url(#m)"/>
<line x1="366" y1="281.5" x2="366" y2="412.5" stroke="#7a7a7a" stroke-width="1.05" />
<line x1="525" y1="281.5" x2="525" y2="412.5" stroke="#7a7a7a" stroke-width="1.05" />
<line x1="365.5" y1="281.5" x2="525.5" y2="281.5" stroke="#262626" stroke-width="1" />
<line x1="365.5" y1="412.5" x2="525.5" y2="412.5" stroke="#262626" stroke-width="1" />
<line x1="380.55" y1="412.5" x2="380.55" y2="410.3" stroke="#3a3a3a" stroke-width="0.9" />
<line x1="380.55" y1="281.5" x2="380.55" y2="283.7" stroke="#3a3a3a" stroke-width="0.9" />
<line x1="395.1" y1="412.5" x2="395.1" y2="408.5" stroke="#3a3a3a" stroke-width="0.9" />
<line x1="395.1" y1="281.5" x2="395.1" y2="285.5" stroke="#3a3a3a" stroke-width="0.9" />
<line x1="409.65" y1="412.5" x2="409.65" y2="410.3" stroke="#3a3a3a" stroke-width="0.9" />
<line x1="409.65" y1="281.5" x2="409.65" y2="283.7" stroke="#3a3a3a" stroke-width="0.9" />
<line x1="424.2" y1="412.5" x2="424.2" y2="408.5" stroke="#3a3a3a" stroke-width="0.9" />
<line x1="424.2" y1="281.5" x2="424.2" y2="285.5" stroke="#3a3a3a" stroke-width="0.9" />
<line x1="438.75" y1="412.5" x2="438.75" y2="410.3" stroke="#3a3a3a" stroke-width="0.9" />
<line x1="438.75" y1="281.5" x2="438.75" y2="283.7" stroke="#3a3a3a" stroke-width="0.9" />
<line x1="453.3" y1="412.5" x2="453.3" y2="408.5" stroke="#3a3a3a" stroke-width="0.9" />
<line x1="453.3" y1="281.5" x2="453.3" y2="285.5" stroke="#3a3a3a" stroke-width="0.9" />
<line x1="467.85" y1="412.5" x2="467.85" y2="410.3" stroke="#3a3a3a" stroke-width="0.9" />
<line x1="467.85" y1="281.5" x2="467.85" y2="283.7" stroke="#3a3a3a" stroke-width="0.9" />
<line x1="482.4" y1="412.5" x2="482.4" y2="408.5" stroke="#3a3a3a" stroke-width="0.9" />
<line x1="482.4" y1="281.5" x2="482.4" y2="285.5" stroke="#3a3a3a" stroke-width="0.9" />
<line x1="496.95" y1="412.5" x2="496.95" y2="410.3" stroke="#3a3a3a" stroke-width="0.9" />
<line x1="496.95" y1="281.5" x2="496.95" y2="283.7" stroke="#3a3a3a" stroke-width="0.9" />
<line x1="511.5" y1="412.5" x2="511.5" y2="408.5" stroke="#3a3a3a" stroke-width="0.9" />
<line x1="511.5" y1="281.5" x2="511.5" y2="285.5" stroke="#3a3a3a" stroke-width="0.9" />
<line x1="366" y1="296.06" x2="370" y2="296.06" stroke="#3a3a3a" stroke-width="0.9" />
<line x1="525" y1="296.06" x2="521" y2="296.06" stroke="#3a3a3a" stroke-width="0.9" />
<text x="342.7" y="299.06" font-size="9.3" xml:space="preserve">0.01</text>
<line x1="366" y1="310.61" x2="368.2" y2="310.61" stroke="#3a3a3a" stroke-width="0.9" />
<line x1="525" y1="310.61" x2="522.8" y2="310.61" stroke="#3a3a3a" stroke-width="0.9" />
<line x1="366" y1="325.17" x2="370" y2="325.17" stroke="#3a3a3a" stroke-width="0.9" />
<line x1="525" y1="325.17" x2="521" y2="325.17" stroke="#3a3a3a" stroke-width="0.9" />
<text x="342.7" y="328.17" font-size="9.3" xml:space="preserve">0.00</text>
<line x1="366" y1="339.72" x2="368.2" y2="339.72" stroke="#3a3a3a" stroke-width="0.9" />
<line x1="525" y1="339.72" x2="522.8" y2="339.72" stroke="#3a3a3a" stroke-width="0.9" />
<line x1="366" y1="354.28" x2="370" y2="354.28" stroke="#3a3a3a" stroke-width="0.9" />
<line x1="525" y1="354.28" x2="521" y2="354.28" stroke="#3a3a3a" stroke-width="0.9" />
<text x="339.6" y="357.28" font-size="9.3" xml:space="preserve">-0.01</text>
<line x1="366" y1="368.83" x2="368.2" y2="368.83" stroke="#3a3a3a" stroke-width="0.9" />
<line x1="525" y1="368.83" x2="522.8" y2="368.83" stroke="#3a3a3a" stroke-width="0.9" />
<line x1="366" y1="383.39" x2="370" y2="383.39" stroke="#3a3a3a" stroke-width="0.9" />
<line x1="525" y1="383.39" x2="521" y2="383.39" stroke="#3a3a3a" stroke-width="0.9" />
<text x="339.6" y="386.39" font-size="9.3" xml:space="preserve">-0.02</text>
<line x1="366" y1="397.94" x2="368.2" y2="397.94" stroke="#3a3a3a" stroke-width="0.9" />
<line x1="525" y1="397.94" x2="522.8" y2="397.94" stroke="#3a3a3a" stroke-width="0.9" />
<text x="339.6" y="415.5" font-size="9.3" xml:space="preserve">-0.03</text>
<text x="363.27" y="425.3" font-size="9.8" xml:space="preserve">1</text>
<text x="392.37" y="425.3" font-size="9.8" xml:space="preserve">2</text>
<text x="421.47" y="425.3" font-size="9.8" xml:space="preserve">3</text>
<text x="450.57" y="425.3" font-size="9.8" xml:space="preserve">4</text>
<text x="479.67" y="425.3" font-size="9.8" xml:space="preserve">5</text>
<text x="508.77" y="425.3" font-size="9.8" xml:space="preserve">6</text>
<text x="379.1" y="306.6" font-size="9.3" font-weight="bold" xml:space="preserve">e</text>
<text x="377.8" y="389.7" font-size="9.6" font-weight="bold" font-style="italic" xml:space="preserve">T</text><text x="383.66" y="389.7" font-size="9.6" font-weight="bold" xml:space="preserve"> &lt; </text><text x="394.6" y="389.7" font-size="9.6" font-weight="bold" font-style="italic" xml:space="preserve">T</text><text x="400.47" y="391.9" font-size="6.7" font-weight="bold" font-style="italic" xml:space="preserve">N</text>
<text x="377.8" y="404" font-size="9.6" font-weight="bold" xml:space="preserve">6 K - 16 K</text>
<line x1="525" y1="61.5" x2="684" y2="61.5" stroke="#222" stroke-width="1"/>
<line x1="620.7" y1="17.5" x2="620.7" y2="149.5" stroke="#333" stroke-width="1.1"/>
<polyline points="525,61.4 525.1,61.4 525.2,61.4 525.3,61.4 525.4,61.4 525.5,61.4 525.6,61.4 525.7,61.4 525.8,61.4 525.9,61.4 526,61.4 526.1,61.4 526.2,61.4 526.31,61.4 526.41,61.4 526.51,61.4 526.61,61.4 526.71,61.41 526.81,61.41 526.91,61.41 527.01,61.41 527.11,61.41 527.22,61.41 527.32,61.41 527.42,61.41 527.52,61.41 527.62,61.41 527.72,61.41 527.83,61.41 527.93,61.41 528.03,61.41 528.13,61.41 528.23,61.41 528.34,61.41 528.44,61.41 528.54,61.41 528.64,61.41 528.75,61.41 528.85,61.41 528.95,61.41 529.05,61.41 529.16,61.41 529.26,61.42 529.36,61.42 529.47,61.42 529.57,61.42 529.67,61.42 529.78,61.42 529.88,61.42 529.98,61.42 530.09,61.42 530.19,61.42 530.29,61.42 530.4,61.42 530.5,61.42 530.6,61.42 530.71,61.42 530.81,61.42 530.92,61.42 531.02,61.42 531.12,61.42 531.23,61.42 531.33,61.42 531.44,61.42 531.54,61.42 531.65,61.42 531.75,61.42 531.85,61.43 531.96,61.43 532.06,61.43 532.17,61.43 532.27,61.43 532.38,61.43 532.48,61.43 532.59,61.43 532.69,61.43 532.8,61.43 532.9,61.43 533.01,61.43 533.12,61.43 533.22,61.43 533.33,61.43 533.43,61.43 533.54,61.43 533.64,61.43 533.75,61.43 533.86,61.43 533.96,61.43 534.07,61.43 534.17,61.43 534.28,61.43 534.39,61.44 534.49,61.44 534.6,61.44 534.71,61.44 534.81,61.44 534.92,61.44 535.03,61.44 535.13,61.44 535.24,61.44 535.35,61.44 535.46,61.44 535.56,61.44 535.67,61.44 535.78,61.44 535.88,61.44 535.99,61.44 536.1,61.44 536.21,61.44 536.31,61.44 536.42,61.44 536.53,61.44 536.64,61.44 536.75,61.44 536.85,61.45 536.96,61.45 537.07,61.45 537.18,61.45 537.29,61.45 537.4,61.45 537.5,61.45 537.61,61.45 537.72,61.45 537.83,61.45 537.94,61.45 538.05,61.45 538.16,61.45 538.27,61.45 538.38,61.45 538.48,61.45 538.59,61.45 538.7,61.45 538.81,61.45 538.92,61.45 539.03,61.45 539.14,61.45 539.25,61.45 539.36,61.46 539.47,61.46 539.58,61.46 539.69,61.46 539.8,61.46 539.91,61.46 540.02,61.46 540.13,61.46 540.24,61.46 540.35,61.46 540.46,61.46 540.57,61.46 540.68,61.46 540.79,61.46 540.91,61.46 541.02,61.46 541.13,61.46 541.24,61.46 541.35,61.46 541.46,61.46 541.57,61.46 541.68,61.46 541.8,61.47 541.91,61.47 542.02,61.47 542.13,61.47 542.24,61.47 542.35,61.47 542.47,61.47 542.58,61.47 542.69,61.47 542.8,61.47 542.91,61.47 543.03,61.47 543.14,61.47 543.25,61.47 543.36,61.47 543.48,61.47 543.59,61.47 543.7,61.47 543.81,61.47 543.93,61.47 544.04,61.47 544.15,61.48 544.27,61.48 544.38,61.48 544.49,61.48 544.61,61.48 544.72,61.48 544.83,61.48 544.95,61.48 545.06,61.48 545.18,61.48 545.29,61.48 545.4,61.48 545.52,61.48 545.63,61.48 545.75,61.48 545.86,61.48 545.97,61.48 546.09,61.48 546.2,61.48 546.32,61.48 546.43,61.48 546.55,61.49 546.66,61.49 546.78,61.49 546.89,61.49 547.01,61.49 547.12,61.49 547.24,61.49 547.35,61.49 547.47,61.49 547.58,61.49 547.7,61.49 547.81,61.49 547.93,61.49 548.05,61.49 548.16,61.49 548.28,61.49 548.39,61.49 548.51,61.49 548.63,61.49 548.74,61.49 548.86,61.5 548.97,61.5 549.09,61.5 549.21,61.5 549.32,61.5 549.44,61.5 549.56,61.5 549.67,61.5 549.79,61.5 549.91,61.5 550.03,61.5 550.14,61.5 550.26,61.5 550.38,61.5 550.49,61.5 550.61,61.5 550.73,61.5 550.85,61.5 550.97,61.5 551.08,61.5 551.2,61.5 551.32,61.51 551.44,61.51 551.56,61.51 551.67,61.51 551.79,61.51 551.91,61.51 552.03,61.51 552.15,61.51 552.27,61.51 552.38,61.51 552.5,61.51 552.62,61.51 552.74,61.51 552.86,61.51 552.98,61.51 553.1,61.51 553.22,61.51 553.34,61.51 553.46,61.51 553.58,61.51 553.7,61.51 553.82,61.51 553.94,61.51 554.06,61.51 554.18,61.52 554.3,61.52 554.42,61.52 554.54,61.52 554.66,61.52 554.78,61.52 554.91,61.52 555.03,61.52 555.15,61.52 555.28,61.52 555.4,61.52 555.53,61.52 555.66,61.52 555.78,61.52 555.91,61.52 556.04,61.52 556.17,61.52 556.3,61.52 556.43,61.52 556.56,61.52 556.69,61.52 556.82,61.52 556.95,61.52 557.09,61.52 557.22,61.52 557.36,61.52 557.49,61.52 557.63,61.53 557.76,61.53 557.9,61.53 558.04,61.53 558.17,61.53 558.31,61.53 558.45,61.53 558.59,61.53 558.73,61.53 558.87,61.53 559.02,61.53 559.16,61.53 559.3,61.53 559.45,61.53 559.59,61.53 559.74,61.53 559.88,61.53 560.03,61.53 560.17,61.53 560.32,61.53 560.47,61.53 560.62,61.53 560.77,61.53 560.92,61.54 561.07,61.54 561.22,61.54 561.38,61.54 561.53,61.54 561.68,61.54 561.84,61.54 561.99,61.54 562.15,61.54 562.31,61.54 562.46,61.54 562.62,61.54 562.78,61.54 562.94,61.54" fill="none" stroke="none" marker-start="url(#m1)" marker-mid="url(#m1)" marker-end="url(#m1)"/>
<polyline points="562.94,61.54 563.1,61.54 563.26,61.54 563.43,61.54 563.59,61.55 563.75,61.55 563.92,61.55 564.08,61.55 564.25,61.55 564.41,61.55 564.58,61.55 564.75,61.55 564.92,61.55 565.09,61.55 565.26,61.55 565.43,61.55 565.6,61.55 565.77,61.56 565.95,61.56 566.12,61.56 566.3,61.56 566.47,61.56 566.65,61.56 566.83,61.56 567,61.56 567.18,61.56 567.36,61.57 567.54,61.57 567.73,61.57 567.91,61.57 568.09,61.57 568.28,61.57 568.46,61.57 568.65,61.57 568.83,61.58 569.02,61.58 569.21,61.58 569.4,61.58 569.59,61.58 569.78,61.58 569.97,61.58 570.16,61.59 570.36,61.59 570.55,61.59 570.75,61.59 570.94,61.59 571.14,61.59 571.34,61.6 571.54,61.6 571.74,61.6 571.94,61.6 572.14,61.61 572.35,61.61 572.56,61.62 572.77,61.62 572.99,61.63 573.21,61.63 573.43,61.64 573.65,61.65 573.88,61.66 574.11,61.67 574.34,61.68 574.58,61.69 574.81,61.71 575.05,61.72 575.3,61.73 575.55,61.75 575.8,61.76 576.05,61.78 576.31,61.79 576.57,61.81 576.83,61.83 577.09,61.84 577.36,61.86 577.64,61.88 577.91,61.89 578.19,61.91 578.48,61.93 578.76,61.95 579.06,61.97 579.35,61.99 579.65,62.01 579.95,62.04 580.26,62.06 580.57,62.09 580.88,62.12 581.2,62.15 581.52,62.18 581.84,62.21" fill="none" stroke="none" marker-start="url(#m2)" marker-mid="url(#m2)" marker-end="url(#m2)"/>
<polyline points="581.84,62.21 582.17,62.25 582.51,62.29 582.84,62.33 583.19,62.37 583.53,62.42 583.88,62.47 584.24,62.53 584.6,62.6 584.96,62.68 585.33,62.76 585.71,62.85 586.08,62.95 586.47,63.06 586.85,63.17 587.25,63.29 587.65,63.42 588.05,63.56 588.46,63.71 588.87,63.87 589.29,64.03 589.71,64.2 590.13,64.38 590.56,64.57 590.98,64.78 591.41,65.03 591.84,65.3 592.27,65.59 592.71,65.91 593.15,66.25 593.58,66.62 594.02,67 594.47,67.41 594.91,67.83 595.36,68.27 595.81,68.72 596.26,69.18 596.71,69.66 597.16,70.14 597.62,70.64 598.08,71.18 598.54,71.76 599,72.38 599.47,73.04 599.93,73.73 600.4,74.45 600.87,75.19 601.34,75.95 601.82,76.72 602.3,77.5 602.78,78.29 603.26,79.08 603.74,79.86 604.23,80.63 604.71,81.41 605.2,82.25 605.7,83.13 606.19,84.02 606.69,84.86 607.19,85.63 607.69,86.27 608.19,86.8 608.7,87.31 609.21,87.69 609.72,87.8 610.23,87.71 610.74,87.52 611.26,86.96 611.78,85.73 612.3,84.14 612.82,82.44 613.35,80.26 613.88,77.7 614.41,75.02 614.94,72.5 615.48,70.03 616.02,67.53 616.56,65.11 617.1,62.91 617.65,60.99 618.2,59.2 618.75,57.79 619.31,56.84 619.88,56.03 620.47,55.47 621.06,55.22 621.67,55.08 622.29,55.01 622.92,55.02 623.56,55.12 624.22,55.28 624.88,55.46 625.56,55.64 626.26,55.87 626.96,56.14 627.69,56.42 628.42,56.67 629.17,56.83 629.93,56.96 630.71,57.08 631.51,57.18 632.31,57.26 633.14,57.3 633.98,57.26 634.84,57.1 635.71,56.83 636.6,56.5 637.51,56.17 638.43,55.86 639.37,55.52 640.33,55.15 641.31,54.77 642.31,54.41 643.33,54.08 644.37,53.79 645.42,53.52 646.5,53.26 647.6,53.04 648.72,52.87 649.86,52.72 651.02,52.58 652.21,52.46 653.42,52.4 654.65,52.43 655.91,52.56 657.19,52.72 658.49,52.84 659.82,52.98 661.18,53.08 662.56,53.05 663.97,52.63 665.41,52.02 666.87,51.49 668.37,50.92 669.9,50.39 671.47,49.94 673.07,49.51 674.7,49.11 676.38,48.73 678.08,48.36 679.83,48.02 681.62,47.69 683.44,47.38 684,47.29" fill="none" stroke="none" marker-start="url(#m)" marker-mid="url(#m)" marker-end="url(#m)"/>
<line x1="525" y1="17.5" x2="525" y2="149.5" stroke="#7a7a7a" stroke-width="1.05" />
<line x1="684" y1="17.5" x2="684" y2="149.5" stroke="#7a7a7a" stroke-width="1.05" />
<line x1="524.5" y1="17.5" x2="684.5" y2="17.5" stroke="#262626" stroke-width="1" />
<line x1="524.5" y1="149.5" x2="684.5" y2="149.5" stroke="#262626" stroke-width="1" />
<line x1="539.55" y1="149.5" x2="539.55" y2="147.3" stroke="#3a3a3a" stroke-width="0.9" />
<line x1="539.55" y1="17.5" x2="539.55" y2="19.7" stroke="#3a3a3a" stroke-width="0.9" />
<line x1="554.1" y1="149.5" x2="554.1" y2="145.5" stroke="#3a3a3a" stroke-width="0.9" />
<line x1="554.1" y1="17.5" x2="554.1" y2="21.5" stroke="#3a3a3a" stroke-width="0.9" />
<line x1="568.65" y1="149.5" x2="568.65" y2="147.3" stroke="#3a3a3a" stroke-width="0.9" />
<line x1="568.65" y1="17.5" x2="568.65" y2="19.7" stroke="#3a3a3a" stroke-width="0.9" />
<line x1="583.2" y1="149.5" x2="583.2" y2="145.5" stroke="#3a3a3a" stroke-width="0.9" />
<line x1="583.2" y1="17.5" x2="583.2" y2="21.5" stroke="#3a3a3a" stroke-width="0.9" />
<line x1="597.75" y1="149.5" x2="597.75" y2="147.3" stroke="#3a3a3a" stroke-width="0.9" />
<line x1="597.75" y1="17.5" x2="597.75" y2="19.7" stroke="#3a3a3a" stroke-width="0.9" />
<line x1="612.3" y1="149.5" x2="612.3" y2="145.5" stroke="#3a3a3a" stroke-width="0.9" />
<line x1="612.3" y1="17.5" x2="612.3" y2="21.5" stroke="#3a3a3a" stroke-width="0.9" />
<line x1="626.85" y1="149.5" x2="626.85" y2="147.3" stroke="#3a3a3a" stroke-width="0.9" />
<line x1="626.85" y1="17.5" x2="626.85" y2="19.7" stroke="#3a3a3a" stroke-width="0.9" />
<line x1="641.4" y1="149.5" x2="641.4" y2="145.5" stroke="#3a3a3a" stroke-width="0.9" />
<line x1="641.4" y1="17.5" x2="641.4" y2="21.5" stroke="#3a3a3a" stroke-width="0.9" />
<line x1="655.95" y1="149.5" x2="655.95" y2="147.3" stroke="#3a3a3a" stroke-width="0.9" />
<line x1="655.95" y1="17.5" x2="655.95" y2="19.7" stroke="#3a3a3a" stroke-width="0.9" />
<line x1="670.5" y1="149.5" x2="670.5" y2="145.5" stroke="#3a3a3a" stroke-width="0.9" />
<line x1="670.5" y1="17.5" x2="670.5" y2="21.5" stroke="#3a3a3a" stroke-width="0.9" />
<line x1="525" y1="32.17" x2="529" y2="32.17" stroke="#3a3a3a" stroke-width="0.9" />
<line x1="684" y1="32.17" x2="680" y2="32.17" stroke="#3a3a3a" stroke-width="0.9" />
<line x1="525" y1="46.83" x2="527.2" y2="46.83" stroke="#3a3a3a" stroke-width="0.9" />
<line x1="684" y1="46.83" x2="681.8" y2="46.83" stroke="#3a3a3a" stroke-width="0.9" />
<line x1="525" y1="61.5" x2="529" y2="61.5" stroke="#3a3a3a" stroke-width="0.9" />
<line x1="684" y1="61.5" x2="680" y2="61.5" stroke="#3a3a3a" stroke-width="0.9" />
<line x1="525" y1="76.17" x2="527.2" y2="76.17" stroke="#3a3a3a" stroke-width="0.9" />
<line x1="684" y1="76.17" x2="681.8" y2="76.17" stroke="#3a3a3a" stroke-width="0.9" />
<line x1="525" y1="90.83" x2="529" y2="90.83" stroke="#3a3a3a" stroke-width="0.9" />
<line x1="684" y1="90.83" x2="680" y2="90.83" stroke="#3a3a3a" stroke-width="0.9" />
<line x1="525" y1="105.5" x2="527.2" y2="105.5" stroke="#3a3a3a" stroke-width="0.9" />
<line x1="684" y1="105.5" x2="681.8" y2="105.5" stroke="#3a3a3a" stroke-width="0.9" />
<line x1="525" y1="120.17" x2="529" y2="120.17" stroke="#3a3a3a" stroke-width="0.9" />
<line x1="684" y1="120.17" x2="680" y2="120.17" stroke="#3a3a3a" stroke-width="0.9" />
<line x1="525" y1="134.83" x2="527.2" y2="134.83" stroke="#3a3a3a" stroke-width="0.9" />
<line x1="684" y1="134.83" x2="681.8" y2="134.83" stroke="#3a3a3a" stroke-width="0.9" />
<text x="543.2" y="39.7" font-size="9.3" font-weight="bold" xml:space="preserve">f</text>
<text x="536.8" y="125.7" font-size="9.6" font-weight="bold" font-style="italic" xml:space="preserve">T</text><text x="542.66" y="127.9" font-size="6.7" font-weight="bold" font-style="italic" xml:space="preserve">H</text><text x="547.5" y="125.7" font-size="9.6" font-weight="bold" xml:space="preserve"> &lt; </text><text x="558.44" y="125.7" font-size="9.6" font-weight="bold" font-style="italic" xml:space="preserve">T</text>
<text x="536.8" y="140" font-size="9.6" font-weight="bold" xml:space="preserve">40 K - 75 K</text>
<text x="546.3" y="90.1" font-size="9.6" font-weight="bold" xml:space="preserve">Exciton</text>
<text x="629.6" y="83" font-size="9.6" font-weight="bold" xml:space="preserve">Charge-</text>
<text x="629.9" y="95.7" font-size="9.6" font-weight="bold" xml:space="preserve">Transfer</text>
<line x1="525" y1="193.5" x2="684" y2="193.5" stroke="#222" stroke-width="1"/>
<line x1="620.7" y1="149.5" x2="620.7" y2="281.5" stroke="#333" stroke-width="1.1"/>
<path d="M525,192.9 L525,193.5 L525.1,193.5 L525.2,193.5 L525.3,193.5 L525.4,193.5 L525.5,193.5 L525.6,193.5 L525.7,193.5 L525.8,193.5 L525.9,193.5 L526,193.5 L526.1,193.5 L526.2,193.5 L526.31,193.5 L526.41,193.5 L526.51,193.5 L526.61,193.5 L526.71,193.5 L526.81,193.5 L526.91,193.5 L527.01,193.5 L527.11,193.5 L527.22,193.5 L527.32,193.5 L527.42,193.5 L527.52,193.5 L527.62,193.5 L527.72,193.5 L527.83,193.5 L527.93,193.5 L528.03,193.5 L528.13,193.5 L528.23,193.5 L528.34,193.5 L528.44,193.5 L528.54,193.5 L528.64,193.5 L528.75,193.5 L528.85,193.5 L528.95,193.5 L529.05,193.5 L529.16,193.5 L529.26,193.5 L529.36,193.5 L529.47,193.5 L529.57,193.5 L529.67,193.5 L529.78,193.5 L529.88,193.5 L529.98,193.5 L530.09,193.5 L530.19,193.5 L530.29,193.5 L530.4,193.5 L530.5,193.5 L530.6,193.5 L530.71,193.5 L530.81,193.5 L530.92,193.5 L531.02,193.5 L531.12,193.5 L531.23,193.5 L531.33,193.5 L531.44,193.5 L531.54,193.5 L531.65,193.5 L531.75,193.5 L531.85,193.5 L531.96,193.5 L532.06,193.5 L532.17,193.5 L532.27,193.5 L532.38,193.5 L532.48,193.5 L532.59,193.5 L532.69,193.5 L532.8,193.5 L532.9,193.5 L533.01,193.5 L533.12,193.5 L533.22,193.5 L533.33,193.5 L533.43,193.5 L533.54,193.5 L533.64,193.5 L533.75,193.5 L533.86,193.5 L533.96,193.5 L534.07,193.5 L534.17,193.5 L534.28,193.5 L534.39,193.5 L534.49,193.5 L534.6,193.5 L534.71,193.5 L534.81,193.5 L534.92,193.5 L535.03,193.5 L535.13,193.5 L535.24,193.5 L535.35,193.5 L535.46,193.5 L535.56,193.5 L535.67,193.5 L535.78,193.5 L535.88,193.5 L535.99,193.5 L536.1,193.5 L536.21,193.5 L536.31,193.5 L536.42,193.5 L536.53,193.5 L536.64,193.5 L536.75,193.5 L536.85,193.5 L536.96,193.5 L537.07,193.5 L537.18,193.5 L537.29,193.5 L537.4,193.5 L537.5,193.5 L537.61,193.5 L537.72,193.5 L537.83,193.5 L537.94,193.5 L538.05,193.5 L538.16,193.5 L538.27,193.5 L538.38,193.5 L538.48,193.5 L538.59,193.5 L538.7,193.5 L538.81,193.5 L538.92,193.5 L539.03,193.5 L539.14,193.5 L539.25,193.5 L539.36,193.5 L539.47,193.5 L539.58,193.5 L539.69,193.5 L539.8,193.5 L539.91,193.5 L540.02,193.5 L540.13,193.5 L540.24,193.5 L540.35,193.5 L540.46,193.5 L540.57,193.5 L540.68,193.5 L540.79,193.5 L540.91,193.5 L541.02,193.5 L541.13,193.5 L541.24,193.5 L541.35,193.5 L541.46,193.5 L541.57,193.5 L541.68,193.5 L541.8,193.5 L541.91,193.5 L542.02,193.5 L542.13,193.5 L542.24,193.5 L542.35,193.5 L542.47,193.5 L542.58,193.5 L542.69,193.5 L542.8,193.5 L542.91,193.5 L543.03,193.5 L543.14,193.5 L543.25,193.5 L543.36,193.5 L543.48,193.5 L543.59,193.5 L543.7,193.5 L543.81,193.5 L543.93,193.5 L544.04,193.5 L544.15,193.5 L544.27,193.5 L544.38,193.5 L544.49,193.5 L544.61,193.5 L544.72,193.5 L544.83,193.5 L544.95,193.5 L545.06,193.5 L545.18,193.5 L545.29,193.5 L545.4,193.5 L545.52,193.5 L545.63,193.5 L545.75,193.5 L545.86,193.5 L545.97,193.5 L546.09,193.5 L546.2,193.5 L546.32,193.5 L546.43,193.5 L546.55,193.5 L546.66,193.5 L546.78,193.5 L546.89,193.5 L547.01,193.5 L547.12,193.5 L547.24,193.5 L547.35,193.5 L547.47,193.5 L547.58,193.5 L547.7,193.5 L547.81,193.5 L547.93,193.5 L548.05,193.5 L548.16,193.5 L548.28,193.5 L548.39,193.5 L548.51,193.5 L548.63,193.5 L548.74,193.5 L548.86,193.5 L548.97,193.5 L549.09,193.5 L549.21,193.5 L549.32,193.5 L549.44,193.5 L549.56,193.5 L549.67,193.5 L549.79,193.5 L549.91,193.5 L550.03,193.5 L550.14,193.5 L550.26,193.5 L550.38,193.5 L550.49,193.5 L550.61,193.5 L550.73,193.5 L550.85,193.5 L550.97,193.5 L551.08,193.5 L551.2,193.5 L551.32,193.5 L551.44,193.5 L551.56,193.5 L551.67,193.5 L551.79,193.5 L551.91,193.5 L552.03,193.5 L552.15,193.5 L552.27,193.5 L552.38,193.5 L552.5,193.5 L552.62,193.5 L552.74,193.51 L552.86,193.52 L552.98,193.53 L553.1,193.54 L553.22,193.55 L553.34,193.56 L553.46,193.57 L553.58,193.58 L553.7,193.59 L553.82,193.6 L553.94,193.61 L554.06,193.62 L554.18,193.63 L554.3,193.64 L554.42,193.65 L554.54,193.66 L554.66,193.67 L554.78,193.69 L554.91,193.7 L555.03,193.71 L555.15,193.72 L555.28,193.73 L555.4,193.74 L555.53,193.75 L555.66,193.77 L555.78,193.78 L555.91,193.79 L556.04,193.8 L556.17,193.81 L556.3,193.83 L556.43,193.84 L556.56,193.85 L556.69,193.86 L556.82,193.88 L556.95,193.89 L557.09,193.9 L557.22,193.92 L557.36,193.93 L557.49,193.94 L557.63,193.96 L557.76,193.97 L557.9,193.98 L558.04,194 L558.17,194.01 L558.31,194.03 L558.45,194.04 L558.59,194.05 L558.73,194.07 L558.87,194.08 L559.02,194.1 L559.16,194.11 L559.3,194.13 L559.45,194.14 L559.59,194.16 L559.74,194.17 L559.88,194.19 L560.03,194.2 L560.17,194.22 L560.32,194.23 L560.47,194.25 L560.62,194.27 L560.77,194.28 L560.92,194.3 L561.07,194.32 L561.22,194.33 L561.38,194.35 L561.53,194.37 L561.68,194.38 L561.84,194.4 L561.99,194.42 L562.15,194.44 L562.31,194.45 L562.46,194.47 L562.62,194.49 L562.78,194.51 L562.94,194.53 L563.1,194.55 L563.26,194.57 L563.43,194.58 L563.59,194.6 L563.75,194.62 L563.92,194.64 L564.08,194.66 L564.25,194.68 L564.41,194.71 L564.58,194.73 L564.75,194.75 L564.92,194.77 L565.09,194.79 L565.26,194.81 L565.43,194.84 L565.6,194.86 L565.77,194.88 L565.95,194.9 L566.12,194.93 L566.3,194.95 L566.47,194.98 L566.65,195 L566.83,195.02 L567,195.05 L567.18,195.07 L567.36,195.1 L567.54,195.13 L567.73,195.15 L567.91,195.18 L568.09,195.21 L568.28,195.23 L568.46,195.26 L568.65,195.29 L568.83,195.32 L569.02,195.35 L569.21,195.38 L569.4,195.41 L569.59,195.44 L569.78,195.47 L569.97,195.5 L570.16,195.53 L570.36,195.57 L570.55,195.6 L570.75,195.63 L570.94,195.67 L571.14,195.7 L571.34,195.74 L571.54,195.77 L571.74,195.81 L571.94,195.84 L572.14,195.88 L572.35,195.92 L572.56,195.96 L572.77,196 L572.99,196.05 L573.21,196.09 L573.43,196.14 L573.65,196.19 L573.88,196.24 L574.11,196.29 L574.34,196.34 L574.58,196.39 L574.81,196.45 L575.05,196.51 L575.3,196.56 L575.55,196.63 L575.8,196.69 L576.05,196.75 L576.31,196.82 L576.57,196.88 L576.83,196.95 L577.09,197.02 L577.36,197.09 L577.64,197.17 L577.91,197.24 L578.19,197.32 L578.48,197.4 L578.76,197.48 L579.06,197.57 L579.35,197.65 L579.65,197.74 L579.95,197.83 L580.26,197.92 L580.57,198.01 L580.88,198.11 L581.2,198.21 L581.52,198.31 L581.84,198.41 L582.17,198.51 L582.51,198.62 L582.84,198.72 L583.19,198.83 L583.53,198.94 L583.88,199.06 L584.24,199.17 L584.6,199.29 L584.96,199.42 L585.33,199.54 L585.71,199.67 L586.08,199.81 L586.47,199.94 L586.85,200.09 L587.25,200.23 L587.65,200.38 L588.05,200.54 L588.46,200.7 L588.87,200.87 L589.29,201.04 L589.71,201.22 L590.13,201.4 L590.56,201.59 L590.98,201.78 L591.41,201.98 L591.84,202.18 L592.27,202.39 L592.71,202.6 L593.15,202.83 L593.58,203.07 L594.02,203.32 L594.47,203.59 L594.91,203.86 L595.36,204.15 L595.81,204.44 L596.26,204.75 L596.71,205.06 L597.16,205.37 L597.62,205.7 L598.08,206.03 L598.54,206.36 L599,206.69 L599.47,207.03 L599.93,207.37 L600.4,207.71 L600.87,208.07 L601.34,208.43 L601.82,208.8 L602.3,209.18 L602.78,209.56 L603.26,209.95 L603.74,210.35 L604.23,210.75 L604.71,211.16 L605.2,211.57 L605.7,211.98 L606.19,212.42 L606.69,212.89 L607.19,213.38 L607.69,213.87 L608.19,214.36 L608.7,214.84 L609.21,215.28 L609.72,215.69 L610.23,216.05 L610.74,216.39 L611.26,216.74 L611.78,217.07 L612.3,217.32 L612.82,217.48 L613.35,217.46 L613.88,217.13 L614.41,216.61 L614.94,216.04 L615.48,215.29 L616.02,214.43 L616.56,213.62 L617.1,212.94 L617.65,212.3 L618.2,211.62 L618.75,210.82 L619.31,209.81 L619.88,208.68 L620.47,207.57 L620.7,207.15 L620.7,192.9 Z" fill="#e41a0c"/>
<path d="M620.7,192.9 L620.7,207.15 L621.06,206.59 L621.67,205.81 L622.29,205.09 L622.92,204.43 L623.56,203.81 L624.22,203.25 L624.88,202.74 L625.56,202.26 L626.26,201.79 L626.96,201.36 L627.69,200.97 L628.42,200.63 L629.17,200.34 L629.93,200.11 L630.71,199.9 L631.51,199.72 L632.31,199.55 L633.14,199.37 L633.98,199.16 L634.84,198.92 L635.71,198.66 L636.6,198.38 L637.51,198.09 L638.43,197.79 L639.37,197.47 L640.33,197.15 L641.31,196.81 L642.31,196.47 L643.33,196.12 L644.37,195.78 L645.42,195.41 L646.5,195.03 L647.6,194.65 L648.72,194.26 L649.86,193.87 L651.02,193.5 L652.21,193.5 L653.42,193.5 L653.42,192.9 Z" fill="#0a0a9a"/>
<polyline points="525,193 525.1,193 525.2,193 525.3,193 525.4,193 525.5,193 525.6,193 525.7,193.01 525.8,193.01 525.9,193.01 526,193.01 526.1,193.01 526.2,193.01 526.31,193.02 526.41,193.02 526.51,193.02 526.61,193.02 526.71,193.02 526.81,193.03 526.91,193.03 527.01,193.03 527.11,193.03 527.22,193.03 527.32,193.04 527.42,193.04 527.52,193.04 527.62,193.04 527.72,193.05 527.83,193.05 527.93,193.05 528.03,193.05 528.13,193.06 528.23,193.06 528.34,193.06 528.44,193.06 528.54,193.07 528.64,193.07 528.75,193.07 528.85,193.07 528.95,193.08 529.05,193.08 529.16,193.08 529.26,193.08 529.36,193.09 529.47,193.09 529.57,193.09 529.67,193.1 529.78,193.1 529.88,193.1 529.98,193.11 530.09,193.11 530.19,193.11 530.29,193.11 530.4,193.12 530.5,193.12 530.6,193.12 530.71,193.13 530.81,193.13 530.92,193.13 531.02,193.14 531.12,193.14 531.23,193.14 531.33,193.15 531.44,193.15 531.54,193.15 531.65,193.16 531.75,193.16 531.85,193.17 531.96,193.17 532.06,193.17 532.17,193.18 532.27,193.18 532.38,193.18 532.48,193.19 532.59,193.19 532.69,193.2 532.8,193.2 532.9,193.2 533.01,193.21 533.12,193.21 533.22,193.22 533.33,193.22 533.43,193.22 533.54,193.23 533.64,193.23 533.75,193.24 533.86,193.24 533.96,193.24 534.07,193.25 534.17,193.25 534.28,193.26 534.39,193.26 534.49,193.27 534.6,193.27 534.71,193.28 534.81,193.28 534.92,193.28 535.03,193.29 535.13,193.29 535.24,193.3 535.35,193.3 535.46,193.31 535.56,193.31 535.67,193.32 535.78,193.32 535.88,193.33 535.99,193.33 536.1,193.34 536.21,193.34 536.31,193.35 536.42,193.35 536.53,193.36 536.64,193.36 536.75,193.36 536.85,193.37 536.96,193.37 537.07,193.38 537.18,193.39 537.29,193.39 537.4,193.4 537.5,193.4 537.61,193.41 537.72,193.41 537.83,193.42 537.94,193.42 538.05,193.43 538.16,193.43 538.27,193.44 538.38,193.44 538.48,193.45 538.59,193.45 538.7,193.46 538.81,193.46 538.92,193.47 539.03,193.48 539.14,193.48 539.25,193.49 539.36,193.49 539.47,193.5 539.58,193.5 539.69,193.51 539.8,193.51 539.91,193.52 540.02,193.53 540.13,193.53 540.24,193.54 540.35,193.54 540.46,193.55 540.57,193.55 540.68,193.56 540.79,193.57 540.91,193.57 541.02,193.58 541.13,193.58 541.24,193.59 541.35,193.6 541.46,193.6 541.57,193.61 541.68,193.61 541.8,193.62 541.91,193.63 542.02,193.63 542.13,193.64 542.24,193.64 542.35,193.65 542.47,193.66 542.58,193.66 542.69,193.67 542.8,193.68 542.91,193.68 543.03,193.69 543.14,193.69 543.25,193.7 543.36,193.71 543.48,193.71 543.59,193.72 543.7,193.73 543.81,193.73 543.93,193.74 544.04,193.74 544.15,193.75 544.27,193.76 544.38,193.76 544.49,193.77 544.61,193.78 544.72,193.78 544.83,193.79 544.95,193.8 545.06,193.8 545.18,193.81 545.29,193.82 545.4,193.82 545.52,193.83 545.63,193.84 545.75,193.84 545.86,193.85 545.97,193.86 546.09,193.86 546.2,193.87 546.32,193.88 546.43,193.88 546.55,193.89 546.66,193.9 546.78,193.9 546.89,193.91 547.01,193.92 547.12,193.92 547.24,193.93 547.35,193.94 547.47,193.94 547.58,193.95 547.7,193.96 547.81,193.97 547.93,193.97 548.05,193.98 548.16,193.99 548.28,193.99 548.39,194 548.51,194.01 548.63,194.01 548.74,194.02 548.86,194.03 548.97,194.04 549.09,194.04 549.21,194.05 549.32,194.06 549.44,194.07 549.56,194.07 549.67,194.08 549.79,194.09 549.91,194.1 550.03,194.1 550.14,194.11 550.26,194.12 550.38,194.13 550.49,194.14 550.61,194.15 550.73,194.15 550.85,194.16 550.97,194.17 551.08,194.18 551.2,194.19 551.32,194.2 551.44,194.21 551.56,194.22 551.67,194.22 551.79,194.23 551.91,194.24 552.03,194.25 552.15,194.26 552.27,194.27 552.38,194.28 552.5,194.29 552.62,194.3 552.74,194.31 552.86,194.32 552.98,194.33 553.1,194.34 553.22,194.35 553.34,194.36 553.46,194.37 553.58,194.38 553.7,194.39 553.82,194.4 553.94,194.41 554.06,194.42 554.18,194.43 554.3,194.44 554.42,194.45 554.54,194.46 554.66,194.47 554.78,194.49 554.91,194.5 555.03,194.51 555.15,194.52 555.28,194.53 555.4,194.54 555.53,194.55 555.66,194.57 555.78,194.58 555.91,194.59 556.04,194.6 556.17,194.61 556.3,194.63 556.43,194.64 556.56,194.65 556.69,194.66 556.82,194.68 556.95,194.69 557.09,194.7 557.22,194.72 557.36,194.73 557.49,194.74 557.63,194.76 557.76,194.77 557.9,194.78 558.04,194.8 558.17,194.81 558.31,194.83 558.45,194.84 558.59,194.85 558.73,194.87 558.87,194.88 559.02,194.9 559.16,194.91 559.3,194.93 559.45,194.94 559.59,194.96 559.74,194.97 559.88,194.99 560.03,195 560.17,195.02 560.32,195.03 560.47,195.05 560.62,195.07 560.77,195.08 560.92,195.1 561.07,195.12 561.22,195.13 561.38,195.15 561.53,195.17 561.68,195.18 561.84,195.2 561.99,195.22 562.15,195.24 562.31,195.25 562.46,195.27 562.62,195.29 562.78,195.31 562.94,195.33" fill="none" stroke="none" marker-start="url(#m1)" marker-mid="url(#m1)" marker-end="url(#m1)"/>
<polyline points="562.94,195.33 563.1,195.35 563.26,195.37 563.43,195.38 563.59,195.4 563.75,195.42 563.92,195.44 564.08,195.46 564.25,195.48 564.41,195.51 564.58,195.53 564.75,195.55 564.92,195.57 565.09,195.59 565.26,195.61 565.43,195.64 565.6,195.66 565.77,195.68 565.95,195.7 566.12,195.73 566.3,195.75 566.47,195.78 566.65,195.8 566.83,195.82 567,195.85 567.18,195.87 567.36,195.9 567.54,195.93 567.73,195.95 567.91,195.98 568.09,196.01 568.28,196.03 568.46,196.06 568.65,196.09 568.83,196.12 569.02,196.15 569.21,196.18 569.4,196.21 569.59,196.24 569.78,196.27 569.97,196.3 570.16,196.33 570.36,196.37 570.55,196.4 570.75,196.43 570.94,196.47 571.14,196.5 571.34,196.54 571.54,196.57 571.74,196.61 571.94,196.64 572.14,196.68 572.35,196.72 572.56,196.76 572.77,196.8 572.99,196.85 573.21,196.89 573.43,196.94 573.65,196.99 573.88,197.04 574.11,197.09 574.34,197.14 574.58,197.19 574.81,197.25 575.05,197.31 575.3,197.36 575.55,197.43 575.8,197.49 576.05,197.55 576.31,197.62 576.57,197.68 576.83,197.75 577.09,197.82 577.36,197.89 577.64,197.97 577.91,198.04 578.19,198.12 578.48,198.2 578.76,198.28 579.06,198.37 579.35,198.45 579.65,198.54 579.95,198.63 580.26,198.72 580.57,198.81 580.88,198.91 581.2,199.01 581.52,199.11 581.84,199.21" fill="none" stroke="none" marker-start="url(#m2)" marker-mid="url(#m2)" marker-end="url(#m2)"/>
<polyline points="581.84,199.21 582.17,199.31 582.51,199.42 582.84,199.52 583.19,199.63 583.53,199.74 583.88,199.86 584.24,199.97 584.6,200.09 584.96,200.22 585.33,200.34 585.71,200.47 586.08,200.61 586.47,200.74 586.85,200.89 587.25,201.03 587.65,201.18 588.05,201.34 588.46,201.5 588.87,201.67 589.29,201.84 589.71,202.02 590.13,202.2 590.56,202.39 590.98,202.58 591.41,202.78 591.84,202.98 592.27,203.19 592.71,203.4 593.15,203.63 593.58,203.87 594.02,204.12 594.47,204.39 594.91,204.66 595.36,204.95 595.81,205.24 596.26,205.55 596.71,205.86 597.16,206.17 597.62,206.5 598.08,206.83 598.54,207.16 599,207.49 599.47,207.83 599.93,208.17 600.4,208.51 600.87,208.87 601.34,209.23 601.82,209.6 602.3,209.98 602.78,210.36 603.26,210.75 603.74,211.15 604.23,211.55 604.71,211.96 605.2,212.37 605.7,212.78 606.19,213.22 606.69,213.69 607.19,214.18 607.69,214.67 608.19,215.16 608.7,215.64 609.21,216.08 609.72,216.49 610.23,216.85 610.74,217.19 611.26,217.54 611.78,217.87 612.3,218.12 612.82,218.28 613.35,218.26 613.88,217.93 614.41,217.41 614.94,216.84 615.48,216.09 616.02,215.23 616.56,214.42 617.1,213.74 617.65,213.1 618.2,212.42 618.75,211.62 619.31,210.61 619.88,209.48 620.47,208.37 621.06,207.39 621.67,206.61 622.29,205.89 622.92,205.23 623.56,204.61 624.22,204.05 624.88,203.54 625.56,203.06 626.26,202.59 626.96,202.16 627.69,201.77 628.42,201.43 629.17,201.14 629.93,200.91 630.71,200.7 631.51,200.52 632.31,200.35 633.14,200.17 633.98,199.96 634.84,199.72 635.71,199.46 636.6,199.18 637.51,198.89 638.43,198.59 639.37,198.27 640.33,197.95 641.31,197.61 642.31,197.27 643.33,196.92 644.37,196.58 645.42,196.21 646.5,195.83 647.6,195.45 648.72,195.06 649.86,194.67 651.02,194.29 652.21,193.91 653.42,193.54 654.65,193.17 655.91,192.8 657.19,192.43 658.49,192.06 659.82,191.69 661.18,191.34 662.56,190.99 663.97,190.64 665.41,190.29 666.87,189.93 668.37,189.55 669.9,189.16 671.47,188.76 673.07,188.36 674.7,187.97 676.38,187.59 678.08,187.21 679.83,186.84 681.62,186.48 683.44,186.12 684,186.01" fill="none" stroke="none" marker-start="url(#m)" marker-mid="url(#m)" marker-end="url(#m)"/>
<line x1="525" y1="149.5" x2="525" y2="281.5" stroke="#7a7a7a" stroke-width="1.05" />
<line x1="684" y1="149.5" x2="684" y2="281.5" stroke="#7a7a7a" stroke-width="1.05" />
<line x1="524.5" y1="149.5" x2="684.5" y2="149.5" stroke="#262626" stroke-width="1" />
<line x1="524.5" y1="281.5" x2="684.5" y2="281.5" stroke="#262626" stroke-width="1" />
<line x1="539.55" y1="281.5" x2="539.55" y2="279.3" stroke="#3a3a3a" stroke-width="0.9" />
<line x1="539.55" y1="149.5" x2="539.55" y2="151.7" stroke="#3a3a3a" stroke-width="0.9" />
<line x1="554.1" y1="281.5" x2="554.1" y2="277.5" stroke="#3a3a3a" stroke-width="0.9" />
<line x1="554.1" y1="149.5" x2="554.1" y2="153.5" stroke="#3a3a3a" stroke-width="0.9" />
<line x1="568.65" y1="281.5" x2="568.65" y2="279.3" stroke="#3a3a3a" stroke-width="0.9" />
<line x1="568.65" y1="149.5" x2="568.65" y2="151.7" stroke="#3a3a3a" stroke-width="0.9" />
<line x1="583.2" y1="281.5" x2="583.2" y2="277.5" stroke="#3a3a3a" stroke-width="0.9" />
<line x1="583.2" y1="149.5" x2="583.2" y2="153.5" stroke="#3a3a3a" stroke-width="0.9" />
<line x1="597.75" y1="281.5" x2="597.75" y2="279.3" stroke="#3a3a3a" stroke-width="0.9" />
<line x1="597.75" y1="149.5" x2="597.75" y2="151.7" stroke="#3a3a3a" stroke-width="0.9" />
<line x1="612.3" y1="281.5" x2="612.3" y2="277.5" stroke="#3a3a3a" stroke-width="0.9" />
<line x1="612.3" y1="149.5" x2="612.3" y2="153.5" stroke="#3a3a3a" stroke-width="0.9" />
<line x1="626.85" y1="281.5" x2="626.85" y2="279.3" stroke="#3a3a3a" stroke-width="0.9" />
<line x1="626.85" y1="149.5" x2="626.85" y2="151.7" stroke="#3a3a3a" stroke-width="0.9" />
<line x1="641.4" y1="281.5" x2="641.4" y2="277.5" stroke="#3a3a3a" stroke-width="0.9" />
<line x1="641.4" y1="149.5" x2="641.4" y2="153.5" stroke="#3a3a3a" stroke-width="0.9" />
<line x1="655.95" y1="281.5" x2="655.95" y2="279.3" stroke="#3a3a3a" stroke-width="0.9" />
<line x1="655.95" y1="149.5" x2="655.95" y2="151.7" stroke="#3a3a3a" stroke-width="0.9" />
<line x1="670.5" y1="281.5" x2="670.5" y2="277.5" stroke="#3a3a3a" stroke-width="0.9" />
<line x1="670.5" y1="149.5" x2="670.5" y2="153.5" stroke="#3a3a3a" stroke-width="0.9" />
<line x1="525" y1="164.17" x2="529" y2="164.17" stroke="#3a3a3a" stroke-width="0.9" />
<line x1="684" y1="164.17" x2="680" y2="164.17" stroke="#3a3a3a" stroke-width="0.9" />
<line x1="525" y1="178.83" x2="527.2" y2="178.83" stroke="#3a3a3a" stroke-width="0.9" />
<line x1="684" y1="178.83" x2="681.8" y2="178.83" stroke="#3a3a3a" stroke-width="0.9" />
<line x1="525" y1="193.5" x2="529" y2="193.5" stroke="#3a3a3a" stroke-width="0.9" />
<line x1="684" y1="193.5" x2="680" y2="193.5" stroke="#3a3a3a" stroke-width="0.9" />
<line x1="525" y1="208.17" x2="527.2" y2="208.17" stroke="#3a3a3a" stroke-width="0.9" />
<line x1="684" y1="208.17" x2="681.8" y2="208.17" stroke="#3a3a3a" stroke-width="0.9" />
<line x1="525" y1="222.83" x2="529" y2="222.83" stroke="#3a3a3a" stroke-width="0.9" />
<line x1="684" y1="222.83" x2="680" y2="222.83" stroke="#3a3a3a" stroke-width="0.9" />
<line x1="525" y1="237.5" x2="527.2" y2="237.5" stroke="#3a3a3a" stroke-width="0.9" />
<line x1="684" y1="237.5" x2="681.8" y2="237.5" stroke="#3a3a3a" stroke-width="0.9" />
<line x1="525" y1="252.17" x2="529" y2="252.17" stroke="#3a3a3a" stroke-width="0.9" />
<line x1="684" y1="252.17" x2="680" y2="252.17" stroke="#3a3a3a" stroke-width="0.9" />
<line x1="525" y1="266.83" x2="527.2" y2="266.83" stroke="#3a3a3a" stroke-width="0.9" />
<line x1="684" y1="266.83" x2="681.8" y2="266.83" stroke="#3a3a3a" stroke-width="0.9" />
<text x="544" y="176" font-size="9.3" font-weight="bold" xml:space="preserve">g</text>
<text x="536.8" y="257.7" font-size="9.6" font-weight="bold" font-style="italic" xml:space="preserve">T</text><text x="542.66" y="259.9" font-size="6.7" font-weight="bold" font-style="italic" xml:space="preserve">N</text><text x="547.5" y="257.7" font-size="9.6" font-weight="bold" xml:space="preserve"> &lt; </text><text x="558.44" y="257.7" font-size="9.6" font-weight="bold" font-style="italic" xml:space="preserve">T</text><text x="564.31" y="257.7" font-size="9.6" font-weight="bold" xml:space="preserve"> &lt; </text><text x="575.25" y="257.7" font-size="9.6" font-weight="bold" font-style="italic" xml:space="preserve">T</text><text x="581.11" y="259.9" font-size="6.7" font-weight="bold" font-style="italic" xml:space="preserve">H</text>
<text x="536.8" y="272" font-size="9.6" font-weight="bold" xml:space="preserve">16 K - 40 K</text>
<line x1="525" y1="325.17" x2="684" y2="325.17" stroke="#222" stroke-width="1"/>
<line x1="620.7" y1="281.5" x2="620.7" y2="412.5" stroke="#333" stroke-width="1.1"/>
<path d="M525,324.57 L525,325.17 L525.1,325.17 L525.2,325.17 L525.3,325.17 L525.4,325.17 L525.5,325.17 L525.6,325.17 L525.7,325.17 L525.8,325.17 L525.9,325.17 L526,325.17 L526.1,325.17 L526.2,325.17 L526.31,325.17 L526.41,325.17 L526.51,325.17 L526.61,325.17 L526.71,325.17 L526.81,325.17 L526.91,325.17 L527.01,325.17 L527.11,325.17 L527.22,325.17 L527.32,325.17 L527.42,325.17 L527.52,325.17 L527.62,325.17 L527.72,325.17 L527.83,325.17 L527.93,325.17 L528.03,325.17 L528.13,325.17 L528.23,325.17 L528.34,325.17 L528.44,325.17 L528.54,325.17 L528.64,325.17 L528.75,325.17 L528.85,325.17 L528.95,325.17 L529.05,325.17 L529.16,325.17 L529.26,325.17 L529.36,325.17 L529.47,325.17 L529.57,325.17 L529.67,325.17 L529.78,325.17 L529.88,325.17 L529.98,325.17 L530.09,325.17 L530.19,325.17 L530.29,325.17 L530.4,325.17 L530.5,325.17 L530.6,325.17 L530.71,325.17 L530.81,325.17 L530.92,325.17 L531.02,325.17 L531.12,325.17 L531.23,325.17 L531.33,325.17 L531.44,325.17 L531.54,325.17 L531.65,325.17 L531.75,325.17 L531.85,325.17 L531.96,325.17 L532.06,325.17 L532.17,325.17 L532.27,325.17 L532.38,325.17 L532.48,325.17 L532.59,325.17 L532.69,325.17 L532.8,325.17 L532.9,325.17 L533.01,325.17 L533.12,325.17 L533.22,325.17 L533.33,325.17 L533.43,325.17 L533.54,325.17 L533.64,325.17 L533.75,325.17 L533.86,325.17 L533.96,325.17 L534.07,325.17 L534.17,325.17 L534.28,325.17 L534.39,325.17 L534.49,325.17 L534.6,325.17 L534.71,325.17 L534.81,325.17 L534.92,325.17 L535.03,325.17 L535.13,325.17 L535.24,325.17 L535.35,325.17 L535.46,325.17 L535.56,325.17 L535.67,325.17 L535.78,325.17 L535.88,325.17 L535.99,325.17 L536.1,325.17 L536.21,325.17 L536.31,325.17 L536.42,325.17 L536.53,325.17 L536.64,325.17 L536.75,325.17 L536.85,325.17 L536.96,325.17 L537.07,325.17 L537.18,325.17 L537.29,325.17 L537.4,325.17 L537.5,325.17 L537.61,325.17 L537.72,325.17 L537.83,325.17 L537.94,325.17 L538.05,325.17 L538.16,325.17 L538.27,325.17 L538.38,325.17 L538.48,325.17 L538.59,325.17 L538.7,325.17 L538.81,325.17 L538.92,325.17 L539.03,325.17 L539.14,325.17 L539.25,325.17 L539.36,325.17 L539.47,325.17 L539.58,325.17 L539.69,325.17 L539.8,325.17 L539.91,325.17 L540.02,325.17 L540.13,325.17 L540.24,325.17 L540.35,325.17 L540.46,325.18 L540.57,325.18 L540.68,325.19 L540.79,325.2 L540.91,325.2 L541.02,325.21 L541.13,325.22 L541.24,325.22 L541.35,325.23 L541.46,325.24 L541.57,325.25 L541.68,325.25 L541.8,325.26 L541.91,325.27 L542.02,325.27 L542.13,325.28 L542.24,325.29 L542.35,325.3 L542.47,325.3 L542.58,325.31 L542.69,325.32 L542.8,325.32 L542.91,325.33 L543.03,325.34 L543.14,325.35 L543.25,325.35 L543.36,325.36 L543.48,325.37 L543.59,325.37 L543.7,325.38 L543.81,325.39 L543.93,325.4 L544.04,325.4 L544.15,325.41 L544.27,325.42 L544.38,325.43 L544.49,325.43 L544.61,325.44 L544.72,325.45 L544.83,325.46 L544.95,325.46 L545.06,325.47 L545.18,325.48 L545.29,325.49 L545.4,325.5 L545.52,325.5 L545.63,325.51 L545.75,325.52 L545.86,325.53 L545.97,325.53 L546.09,325.54 L546.2,325.55 L546.32,325.56 L546.43,325.56 L546.55,325.57 L546.66,325.58 L546.78,325.59 L546.89,325.6 L547.01,325.6 L547.12,325.61 L547.24,325.62 L547.35,325.63 L547.47,325.64 L547.58,325.64 L547.7,325.65 L547.81,325.66 L547.93,325.67 L548.05,325.68 L548.16,325.68 L548.28,325.69 L548.39,325.7 L548.51,325.71 L548.63,325.72 L548.74,325.72 L548.86,325.73 L548.97,325.74 L549.09,325.75 L549.21,325.76 L549.32,325.77 L549.44,325.77 L549.56,325.78 L549.67,325.79 L549.79,325.8 L549.91,325.81 L550.03,325.82 L550.14,325.83 L550.26,325.84 L550.38,325.85 L550.49,325.86 L550.61,325.87 L550.73,325.87 L550.85,325.88 L550.97,325.89 L551.08,325.9 L551.2,325.91 L551.32,325.92 L551.44,325.93 L551.56,325.94 L551.67,325.95 L551.79,325.96 L551.91,325.97 L552.03,325.98 L552.15,325.99 L552.27,326 L552.38,326.01 L552.5,326.02 L552.62,326.03 L552.74,326.05 L552.86,326.06 L552.98,326.07 L553.1,326.08 L553.22,326.09 L553.34,326.1 L553.46,326.11 L553.58,326.12 L553.7,326.13 L553.82,326.14 L553.94,326.16 L554.06,326.17 L554.18,326.18 L554.3,326.19 L554.42,326.2 L554.54,326.21 L554.66,326.22 L554.78,326.24 L554.91,326.25 L555.03,326.26 L555.15,326.27 L555.28,326.29 L555.4,326.3 L555.53,326.31 L555.66,326.32 L555.78,326.34 L555.91,326.35 L556.04,326.36 L556.17,326.38 L556.3,326.39 L556.43,326.4 L556.56,326.42 L556.69,326.43 L556.82,326.44 L556.95,326.46 L557.09,326.47 L557.22,326.49 L557.36,326.5 L557.49,326.52 L557.63,326.53 L557.76,326.55 L557.9,326.56 L558.04,326.58 L558.17,326.59 L558.31,326.61 L558.45,326.62 L558.59,326.64 L558.73,326.65 L558.87,326.67 L559.02,326.69 L559.16,326.7 L559.3,326.72 L559.45,326.74 L559.59,326.75 L559.74,326.77 L559.88,326.79 L560.03,326.8 L560.17,326.82 L560.32,326.84 L560.47,326.86 L560.62,326.87 L560.77,326.89 L560.92,326.91 L561.07,326.93 L561.22,326.95 L561.38,326.97 L561.53,326.99 L561.68,327.01 L561.84,327.03 L561.99,327.05 L562.15,327.07 L562.31,327.09 L562.46,327.11 L562.62,327.13 L562.78,327.15 L562.94,327.17 L563.1,327.19 L563.26,327.21 L563.43,327.24 L563.59,327.26 L563.75,327.28 L563.92,327.3 L564.08,327.33 L564.25,327.35 L564.41,327.37 L564.58,327.4 L564.75,327.42 L564.92,327.45 L565.09,327.47 L565.26,327.5 L565.43,327.52 L565.6,327.55 L565.77,327.58 L565.95,327.6 L566.12,327.63 L566.3,327.66 L566.47,327.68 L566.65,327.71 L566.83,327.74 L567,327.77 L567.18,327.8 L567.36,327.83 L567.54,327.86 L567.73,327.89 L567.91,327.92 L568.09,327.95 L568.28,327.98 L568.46,328.01 L568.65,328.04 L568.83,328.07 L569.02,328.11 L569.21,328.14 L569.4,328.17 L569.59,328.21 L569.78,328.24 L569.97,328.27 L570.16,328.31 L570.36,328.35 L570.55,328.38 L570.75,328.42 L570.94,328.45 L571.14,328.49 L571.34,328.53 L571.54,328.57 L571.74,328.61 L571.94,328.65 L572.14,328.69 L572.35,328.73 L572.56,328.77 L572.77,328.82 L572.99,328.86 L573.21,328.91 L573.43,328.96 L573.65,329 L573.88,329.05 L574.11,329.11 L574.34,329.16 L574.58,329.21 L574.81,329.27 L575.05,329.32 L575.3,329.38 L575.55,329.44 L575.8,329.5 L576.05,329.56 L576.31,329.63 L576.57,329.69 L576.83,329.76 L577.09,329.83 L577.36,329.9 L577.64,329.97 L577.91,330.05 L578.19,330.12 L578.48,330.2 L578.76,330.28 L579.06,330.36 L579.35,330.45 L579.65,330.53 L579.95,330.62 L580.26,330.71 L580.57,330.81 L580.88,330.9 L581.2,331 L581.52,331.1 L581.84,331.2 L582.17,331.3 L582.51,331.41 L582.84,331.52 L583.19,331.63 L583.53,331.74 L583.88,331.86 L584.24,331.99 L584.6,332.11 L584.96,332.25 L585.33,332.39 L585.71,332.53 L586.08,332.68 L586.47,332.83 L586.85,332.99 L587.25,333.15 L587.65,333.32 L588.05,333.49 L588.46,333.67 L588.87,333.86 L589.29,334.05 L589.71,334.24 L590.13,334.44 L590.56,334.64 L590.98,334.85 L591.41,335.06 L591.84,335.27 L592.27,335.48 L592.71,335.7 L593.15,335.94 L593.58,336.21 L594.02,336.49 L594.47,336.79 L594.91,337.09 L595.36,337.4 L595.81,337.68 L596.26,337.96 L596.71,338.2 L597.16,338.41 L597.62,338.58 L598.08,338.74 L598.54,338.9 L599,339.05 L599.47,339.19 L599.93,339.32 L600.4,339.43 L600.87,339.53 L601.34,339.61 L601.82,339.68 L602.3,339.71 L602.78,339.74 L603.26,339.76 L603.74,339.77 L604.23,339.79 L604.71,339.8 L605.2,339.81 L605.7,339.83 L606.19,339.86 L606.69,339.89 L607.19,340 L607.69,340.31 L608.19,340.8 L608.7,341.41 L609.21,342.12 L609.72,342.89 L610.23,344.08 L610.74,345.65 L611.26,347.34 L611.78,348.89 L612.3,350.27 L612.82,351.65 L613.35,352.47 L613.88,352.68 L614.41,352.79 L614.94,352.69 L615.48,352.15 L616.02,351.28 L616.56,350.19 L617.1,349.02 L617.65,347.75 L618.2,346.01 L618.75,344.09 L619.31,342.32 L619.88,341 L620.47,339.87 L620.7,339.44 L620.7,324.57 Z" fill="#e41a0c"/>
<path d="M620.7,324.57 L620.7,339.44 L621.06,338.83 L621.67,337.9 L622.29,337.06 L622.92,336.31 L623.56,335.62 L624.22,334.99 L624.88,334.41 L625.56,333.9 L626.26,333.43 L626.96,333 L627.69,332.61 L628.42,332.25 L629.17,331.93 L629.93,331.64 L630.71,331.38 L631.51,331.14 L632.31,330.9 L633.14,330.65 L633.98,330.38 L634.84,330.07 L635.71,329.76 L636.6,329.43 L637.51,329.09 L638.43,328.74 L639.37,328.37 L640.33,327.98 L641.31,327.57 L642.31,327.14 L643.33,326.67 L644.37,326.17 L645.42,325.58 L646.5,325.17 L646.5,324.57 Z" fill="#0a0a9a"/>
<polyline points="525,325.29 525.1,325.3 525.2,325.3 525.3,325.3 525.4,325.3 525.5,325.3 525.6,325.31 525.7,325.31 525.8,325.31 525.9,325.31 526,325.32 526.1,325.32 526.2,325.32 526.31,325.33 526.41,325.33 526.51,325.33 526.61,325.33 526.71,325.34 526.81,325.34 526.91,325.34 527.01,325.35 527.11,325.35 527.22,325.35 527.32,325.35 527.42,325.36 527.52,325.36 527.62,325.36 527.72,325.37 527.83,325.37 527.93,325.37 528.03,325.38 528.13,325.38 528.23,325.38 528.34,325.39 528.44,325.39 528.54,325.39 528.64,325.4 528.75,325.4 528.85,325.4 528.95,325.41 529.05,325.41 529.16,325.41 529.26,325.42 529.36,325.42 529.47,325.43 529.57,325.43 529.67,325.43 529.78,325.44 529.88,325.44 529.98,325.45 530.09,325.45 530.19,325.45 530.29,325.46 530.4,325.46 530.5,325.47 530.6,325.47 530.71,325.47 530.81,325.48 530.92,325.48 531.02,325.49 531.12,325.49 531.23,325.49 531.33,325.5 531.44,325.5 531.54,325.51 531.65,325.51 531.75,325.52 531.85,325.52 531.96,325.53 532.06,325.53 532.17,325.54 532.27,325.54 532.38,325.54 532.48,325.55 532.59,325.55 532.69,325.56 532.8,325.56 532.9,325.57 533.01,325.57 533.12,325.58 533.22,325.58 533.33,325.59 533.43,325.59 533.54,325.6 533.64,325.6 533.75,325.61 533.86,325.61 533.96,325.62 534.07,325.62 534.17,325.63 534.28,325.63 534.39,325.64 534.49,325.64 534.6,325.65 534.71,325.65 534.81,325.66 534.92,325.67 535.03,325.67 535.13,325.68 535.24,325.68 535.35,325.69 535.46,325.69 535.56,325.7 535.67,325.7 535.78,325.71 535.88,325.72 535.99,325.72 536.1,325.73 536.21,325.73 536.31,325.74 536.42,325.74 536.53,325.75 536.64,325.76 536.75,325.76 536.85,325.77 536.96,325.77 537.07,325.78 537.18,325.79 537.29,325.79 537.4,325.8 537.5,325.8 537.61,325.81 537.72,325.82 537.83,325.82 537.94,325.83 538.05,325.83 538.16,325.84 538.27,325.85 538.38,325.85 538.48,325.86 538.59,325.87 538.7,325.87 538.81,325.88 538.92,325.88 539.03,325.89 539.14,325.9 539.25,325.9 539.36,325.91 539.47,325.92 539.58,325.92 539.69,325.93 539.8,325.94 539.91,325.94 540.02,325.95 540.13,325.96 540.24,325.96 540.35,325.97 540.46,325.98 540.57,325.98 540.68,325.99 540.79,326 540.91,326 541.02,326.01 541.13,326.02 541.24,326.02 541.35,326.03 541.46,326.04 541.57,326.05 541.68,326.05 541.8,326.06 541.91,326.07 542.02,326.07 542.13,326.08 542.24,326.09 542.35,326.1 542.47,326.1 542.58,326.11 542.69,326.12 542.8,326.12 542.91,326.13 543.03,326.14 543.14,326.15 543.25,326.15 543.36,326.16 543.48,326.17 543.59,326.17 543.7,326.18 543.81,326.19 543.93,326.2 544.04,326.2 544.15,326.21 544.27,326.22 544.38,326.23 544.49,326.23 544.61,326.24 544.72,326.25 544.83,326.26 544.95,326.26 545.06,326.27 545.18,326.28 545.29,326.29 545.4,326.3 545.52,326.3 545.63,326.31 545.75,326.32 545.86,326.33 545.97,326.33 546.09,326.34 546.2,326.35 546.32,326.36 546.43,326.36 546.55,326.37 546.66,326.38 546.78,326.39 546.89,326.4 547.01,326.4 547.12,326.41 547.24,326.42 547.35,326.43 547.47,326.44 547.58,326.44 547.7,326.45 547.81,326.46 547.93,326.47 548.05,326.48 548.16,326.48 548.28,326.49 548.39,326.5 548.51,326.51 548.63,326.52 548.74,326.52 548.86,326.53 548.97,326.54 549.09,326.55 549.21,326.56 549.32,326.57 549.44,326.57 549.56,326.58 549.67,326.59 549.79,326.6 549.91,326.61 550.03,326.62 550.14,326.63 550.26,326.64 550.38,326.65 550.49,326.66 550.61,326.67 550.73,326.67 550.85,326.68 550.97,326.69 551.08,326.7 551.2,326.71 551.32,326.72 551.44,326.73 551.56,326.74 551.67,326.75 551.79,326.76 551.91,326.77 552.03,326.78 552.15,326.79 552.27,326.8 552.38,326.81 552.5,326.82 552.62,326.83 552.74,326.85 552.86,326.86 552.98,326.87 553.1,326.88 553.22,326.89 553.34,326.9 553.46,326.91 553.58,326.92 553.7,326.93 553.82,326.94 553.94,326.96 554.06,326.97 554.18,326.98 554.3,326.99 554.42,327 554.54,327.01 554.66,327.02 554.78,327.04 554.91,327.05 555.03,327.06 555.15,327.07 555.28,327.09 555.4,327.1 555.53,327.11 555.66,327.12 555.78,327.14 555.91,327.15 556.04,327.16 556.17,327.18 556.3,327.19 556.43,327.2 556.56,327.22 556.69,327.23 556.82,327.24 556.95,327.26 557.09,327.27 557.22,327.29 557.36,327.3 557.49,327.32 557.63,327.33 557.76,327.35 557.9,327.36 558.04,327.38 558.17,327.39 558.31,327.41 558.45,327.42 558.59,327.44 558.73,327.45 558.87,327.47 559.02,327.49 559.16,327.5 559.3,327.52 559.45,327.54 559.59,327.55 559.74,327.57 559.88,327.59 560.03,327.6 560.17,327.62 560.32,327.64 560.47,327.66 560.62,327.67 560.77,327.69 560.92,327.71 561.07,327.73 561.22,327.75 561.38,327.77 561.53,327.79 561.68,327.81 561.84,327.83 561.99,327.85 562.15,327.87 562.31,327.89 562.46,327.91 562.62,327.93 562.78,327.95 562.94,327.97" fill="none" stroke="none" marker-start="url(#m1)" marker-mid="url(#m1)" marker-end="url(#m1)"/>
<polyline points="562.94,327.97 563.1,327.99 563.26,328.01 563.43,328.04 563.59,328.06 563.75,328.08 563.92,328.1 564.08,328.13 564.25,328.15 564.41,328.17 564.58,328.2 564.75,328.22 564.92,328.25 565.09,328.27 565.26,328.3 565.43,328.32 565.6,328.35 565.77,328.38 565.95,328.4 566.12,328.43 566.3,328.46 566.47,328.48 566.65,328.51 566.83,328.54 567,328.57 567.18,328.6 567.36,328.63 567.54,328.66 567.73,328.69 567.91,328.72 568.09,328.75 568.28,328.78 568.46,328.81 568.65,328.84 568.83,328.87 569.02,328.91 569.21,328.94 569.4,328.97 569.59,329.01 569.78,329.04 569.97,329.07 570.16,329.11 570.36,329.15 570.55,329.18 570.75,329.22 570.94,329.25 571.14,329.29 571.34,329.33 571.54,329.37 571.74,329.41 571.94,329.45 572.14,329.49 572.35,329.53 572.56,329.57 572.77,329.62 572.99,329.66 573.21,329.71 573.43,329.76 573.65,329.8 573.88,329.85 574.11,329.91 574.34,329.96 574.58,330.01 574.81,330.07 575.05,330.12 575.3,330.18 575.55,330.24 575.8,330.3 576.05,330.36 576.31,330.43 576.57,330.49 576.83,330.56 577.09,330.63 577.36,330.7 577.64,330.77 577.91,330.85 578.19,330.92 578.48,331 578.76,331.08 579.06,331.16 579.35,331.25 579.65,331.33 579.95,331.42 580.26,331.51 580.57,331.61 580.88,331.7 581.2,331.8 581.52,331.9 581.84,332" fill="none" stroke="none" marker-start="url(#m2)" marker-mid="url(#m2)" marker-end="url(#m2)"/>
<polyline points="581.84,332 582.17,332.1 582.51,332.21 582.84,332.32 583.19,332.43 583.53,332.54 583.88,332.66 584.24,332.79 584.6,332.91 584.96,333.05 585.33,333.19 585.71,333.33 586.08,333.48 586.47,333.63 586.85,333.79 587.25,333.95 587.65,334.12 588.05,334.29 588.46,334.47 588.87,334.66 589.29,334.85 589.71,335.04 590.13,335.24 590.56,335.44 590.98,335.65 591.41,335.86 591.84,336.07 592.27,336.28 592.71,336.5 593.15,336.74 593.58,337.01 594.02,337.29 594.47,337.59 594.91,337.89 595.36,338.2 595.81,338.48 596.26,338.76 596.71,339 597.16,339.21 597.62,339.38 598.08,339.54 598.54,339.7 599,339.85 599.47,339.99 599.93,340.12 600.4,340.23 600.87,340.33 601.34,340.41 601.82,340.48 602.3,340.51 602.78,340.54 603.26,340.56 603.74,340.57 604.23,340.59 604.71,340.6 605.2,340.61 605.7,340.63 606.19,340.66 606.69,340.69 607.19,340.8 607.69,341.11 608.19,341.6 608.7,342.21 609.21,342.92 609.72,343.69 610.23,344.88 610.74,346.45 611.26,348.14 611.78,349.69 612.3,351.07 612.82,352.45 613.35,353.27 613.88,353.48 614.41,353.59 614.94,353.49 615.48,352.95 616.02,352.08 616.56,350.99 617.1,349.82 617.65,348.55 618.2,346.81 618.75,344.89 619.31,343.12 619.88,341.8 620.47,340.67 621.06,339.63 621.67,338.7 622.29,337.86 622.92,337.11 623.56,336.42 624.22,335.79 624.88,335.21 625.56,334.7 626.26,334.23 626.96,333.8 627.69,333.41 628.42,333.05 629.17,332.73 629.93,332.44 630.71,332.18 631.51,331.94 632.31,331.7 633.14,331.45 633.98,331.18 634.84,330.87 635.71,330.56 636.6,330.23 637.51,329.89 638.43,329.54 639.37,329.17 640.33,328.78 641.31,328.37 642.31,327.94 643.33,327.47 644.37,326.97 645.42,326.38 646.5,325.73 647.6,325.04 648.72,324.36 649.86,323.7 651.02,323.12 652.21,322.63 653.42,322.17 654.65,321.74 655.91,321.33 657.19,320.94 658.49,320.56 659.82,320.21 661.18,319.89 662.56,319.57 663.97,319.23 665.41,318.83 666.87,318.35 668.37,317.79 669.9,317.18 671.47,316.55 673.07,315.91 674.7,315.28 676.38,314.63 678.08,313.97 679.83,313.28 681.62,312.58 683.44,311.86 684,311.64" fill="none" stroke="none" marker-start="url(#m)" marker-mid="url(#m)" marker-end="url(#m)"/>
<line x1="525" y1="281.5" x2="525" y2="412.5" stroke="#7a7a7a" stroke-width="1.05" />
<line x1="684" y1="281.5" x2="684" y2="412.5" stroke="#7a7a7a" stroke-width="1.05" />
<line x1="524.5" y1="281.5" x2="684.5" y2="281.5" stroke="#262626" stroke-width="1" />
<line x1="524.5" y1="412.5" x2="684.5" y2="412.5" stroke="#262626" stroke-width="1" />
<line x1="539.55" y1="412.5" x2="539.55" y2="410.3" stroke="#3a3a3a" stroke-width="0.9" />
<line x1="539.55" y1="281.5" x2="539.55" y2="283.7" stroke="#3a3a3a" stroke-width="0.9" />
<line x1="554.1" y1="412.5" x2="554.1" y2="408.5" stroke="#3a3a3a" stroke-width="0.9" />
<line x1="554.1" y1="281.5" x2="554.1" y2="285.5" stroke="#3a3a3a" stroke-width="0.9" />
<line x1="568.65" y1="412.5" x2="568.65" y2="410.3" stroke="#3a3a3a" stroke-width="0.9" />
<line x1="568.65" y1="281.5" x2="568.65" y2="283.7" stroke="#3a3a3a" stroke-width="0.9" />
<line x1="583.2" y1="412.5" x2="583.2" y2="408.5" stroke="#3a3a3a" stroke-width="0.9" />
<line x1="583.2" y1="281.5" x2="583.2" y2="285.5" stroke="#3a3a3a" stroke-width="0.9" />
<line x1="597.75" y1="412.5" x2="597.75" y2="410.3" stroke="#3a3a3a" stroke-width="0.9" />
<line x1="597.75" y1="281.5" x2="597.75" y2="283.7" stroke="#3a3a3a" stroke-width="0.9" />
<line x1="612.3" y1="412.5" x2="612.3" y2="408.5" stroke="#3a3a3a" stroke-width="0.9" />
<line x1="612.3" y1="281.5" x2="612.3" y2="285.5" stroke="#3a3a3a" stroke-width="0.9" />
<line x1="626.85" y1="412.5" x2="626.85" y2="410.3" stroke="#3a3a3a" stroke-width="0.9" />
<line x1="626.85" y1="281.5" x2="626.85" y2="283.7" stroke="#3a3a3a" stroke-width="0.9" />
<line x1="641.4" y1="412.5" x2="641.4" y2="408.5" stroke="#3a3a3a" stroke-width="0.9" />
<line x1="641.4" y1="281.5" x2="641.4" y2="285.5" stroke="#3a3a3a" stroke-width="0.9" />
<line x1="655.95" y1="412.5" x2="655.95" y2="410.3" stroke="#3a3a3a" stroke-width="0.9" />
<line x1="655.95" y1="281.5" x2="655.95" y2="283.7" stroke="#3a3a3a" stroke-width="0.9" />
<line x1="670.5" y1="412.5" x2="670.5" y2="408.5" stroke="#3a3a3a" stroke-width="0.9" />
<line x1="670.5" y1="281.5" x2="670.5" y2="285.5" stroke="#3a3a3a" stroke-width="0.9" />
<line x1="525" y1="296.06" x2="529" y2="296.06" stroke="#3a3a3a" stroke-width="0.9" />
<line x1="684" y1="296.06" x2="680" y2="296.06" stroke="#3a3a3a" stroke-width="0.9" />
<line x1="525" y1="310.61" x2="527.2" y2="310.61" stroke="#3a3a3a" stroke-width="0.9" />
<line x1="684" y1="310.61" x2="681.8" y2="310.61" stroke="#3a3a3a" stroke-width="0.9" />
<line x1="525" y1="325.17" x2="529" y2="325.17" stroke="#3a3a3a" stroke-width="0.9" />
<line x1="684" y1="325.17" x2="680" y2="325.17" stroke="#3a3a3a" stroke-width="0.9" />
<line x1="525" y1="339.72" x2="527.2" y2="339.72" stroke="#3a3a3a" stroke-width="0.9" />
<line x1="684" y1="339.72" x2="681.8" y2="339.72" stroke="#3a3a3a" stroke-width="0.9" />
<line x1="525" y1="354.28" x2="529" y2="354.28" stroke="#3a3a3a" stroke-width="0.9" />
<line x1="684" y1="354.28" x2="680" y2="354.28" stroke="#3a3a3a" stroke-width="0.9" />
<line x1="525" y1="368.83" x2="527.2" y2="368.83" stroke="#3a3a3a" stroke-width="0.9" />
<line x1="684" y1="368.83" x2="681.8" y2="368.83" stroke="#3a3a3a" stroke-width="0.9" />
<line x1="525" y1="383.39" x2="529" y2="383.39" stroke="#3a3a3a" stroke-width="0.9" />
<line x1="684" y1="383.39" x2="680" y2="383.39" stroke="#3a3a3a" stroke-width="0.9" />
<line x1="525" y1="397.94" x2="527.2" y2="397.94" stroke="#3a3a3a" stroke-width="0.9" />
<line x1="684" y1="397.94" x2="681.8" y2="397.94" stroke="#3a3a3a" stroke-width="0.9" />
<text x="522.27" y="425.3" font-size="9.8" xml:space="preserve">1</text>
<text x="551.37" y="425.3" font-size="9.8" xml:space="preserve">2</text>
<text x="580.47" y="425.3" font-size="9.8" xml:space="preserve">3</text>
<text x="609.57" y="425.3" font-size="9.8" xml:space="preserve">4</text>
<text x="638.67" y="425.3" font-size="9.8" xml:space="preserve">5</text>
<text x="667.77" y="425.3" font-size="9.8" xml:space="preserve">6</text>
<text x="543.9" y="307.6" font-size="9.3" font-weight="bold" xml:space="preserve">h</text>
<text x="536.8" y="389.7" font-size="9.6" font-weight="bold" font-style="italic" xml:space="preserve">T</text><text x="542.66" y="389.7" font-size="9.6" font-weight="bold" xml:space="preserve"> &lt; </text><text x="553.6" y="389.7" font-size="9.6" font-weight="bold" font-style="italic" xml:space="preserve">T</text><text x="559.47" y="391.9" font-size="6.7" font-weight="bold" font-style="italic" xml:space="preserve">N</text>
<text x="536.8" y="404" font-size="9.6" font-weight="bold" xml:space="preserve">6 K - 16 K</text>
<g transform="translate(334.5,79.5) rotate(-90)"><text x="-54.92" y="0" font-size="9.15" font-style="italic" xml:space="preserve">N</text><text x="-48.31" y="2" font-size="6.4" xml:space="preserve">eff</text><text x="-41.19" y="0" font-size="9.15" xml:space="preserve">(</text><text x="-38.15" y="0" font-size="9.15" font-style="italic" xml:space="preserve">ω</text><text x="-31.02" y="0" font-size="9.15" xml:space="preserve">, 40 K) - </text><text x="4.07" y="0" font-size="9.15" font-style="italic" xml:space="preserve">N</text><text x="10.67" y="2" font-size="6.4" xml:space="preserve">eff</text><text x="17.79" y="0" font-size="9.15" xml:space="preserve">(</text><text x="20.84" y="0" font-size="9.15" font-style="italic" xml:space="preserve">ω</text><text x="27.96" y="0" font-size="9.15" xml:space="preserve">, 75 K)</text></g>
<g transform="translate(334.5,212.2) rotate(-90)"><text x="-54.92" y="0" font-size="9.15" font-style="italic" xml:space="preserve">N</text><text x="-48.31" y="2" font-size="6.4" xml:space="preserve">eff</text><text x="-41.19" y="0" font-size="9.15" xml:space="preserve">(</text><text x="-38.15" y="0" font-size="9.15" font-style="italic" xml:space="preserve">ω</text><text x="-31.02" y="0" font-size="9.15" xml:space="preserve">, 16 K) - </text><text x="4.07" y="0" font-size="9.15" font-style="italic" xml:space="preserve">N</text><text x="10.67" y="2" font-size="6.4" xml:space="preserve">eff</text><text x="17.79" y="0" font-size="9.15" xml:space="preserve">(</text><text x="20.84" y="0" font-size="9.15" font-style="italic" xml:space="preserve">ω</text><text x="27.96" y="0" font-size="9.15" xml:space="preserve">, 40 K)</text></g>
<g transform="translate(334.5,344.5) rotate(-90)"><text x="-52.37" y="0" font-size="9.15" font-style="italic" xml:space="preserve">N</text><text x="-45.76" y="2" font-size="6.4" xml:space="preserve">eff</text><text x="-38.65" y="0" font-size="9.15" xml:space="preserve">(</text><text x="-35.6" y="0" font-size="9.15" font-style="italic" xml:space="preserve">ω</text><text x="-28.48" y="0" font-size="9.15" xml:space="preserve">, 6 K) - </text><text x="1.52" y="0" font-size="9.15" font-style="italic" xml:space="preserve">N</text><text x="8.13" y="2" font-size="6.4" xml:space="preserve">eff</text><text x="15.24" y="0" font-size="9.15" xml:space="preserve">(</text><text x="18.29" y="0" font-size="9.15" font-style="italic" xml:space="preserve">ω</text><text x="25.42" y="0" font-size="9.15" xml:space="preserve">, 16 K)</text></g>
<text x="446.2" y="6.8" font-size="9.4" font-style="italic" xml:space="preserve">E</text><text x="452.47" y="9.6" font-size="6.6" xml:space="preserve">bond//</text>
<text x="605.2" y="6.8" font-size="9.4" font-style="italic" xml:space="preserve">E</text><text x="611.47" y="9.6" font-size="6.6" xml:space="preserve">bond</text><path d="M628.2,4.98 V9.6 M626.55,9.32 H629.85" stroke="#000" stroke-width="0.56" fill="none"/>
<text x="396.45" y="443" font-size="9.5" xml:space="preserve">Photon energy </text><text x="460.88" y="443" font-size="9.5" font-style="italic" fill="#000">h</text><path d="M462.02,438.25 L465.63,436.92" stroke="#000" stroke-width="0.71"/><text x="466.17" y="443" font-size="9.5" font-style="italic" xml:space="preserve">ω</text><text x="473.57" y="443" font-size="9.5" xml:space="preserve"> (eV)</text>
<text x="556.55" y="443" font-size="9.5" xml:space="preserve">Photon energy </text><text x="620.98" y="443" font-size="9.5" font-style="italic" fill="#000">h</text><path d="M622.12,438.25 L625.73,436.92" stroke="#000" stroke-width="0.71"/><text x="626.27" y="443" font-size="9.5" font-style="italic" xml:space="preserve">ω</text><text x="633.67" y="443" font-size="9.5" xml:space="preserve"> (eV)</text>
</svg></div></div></body></html>
